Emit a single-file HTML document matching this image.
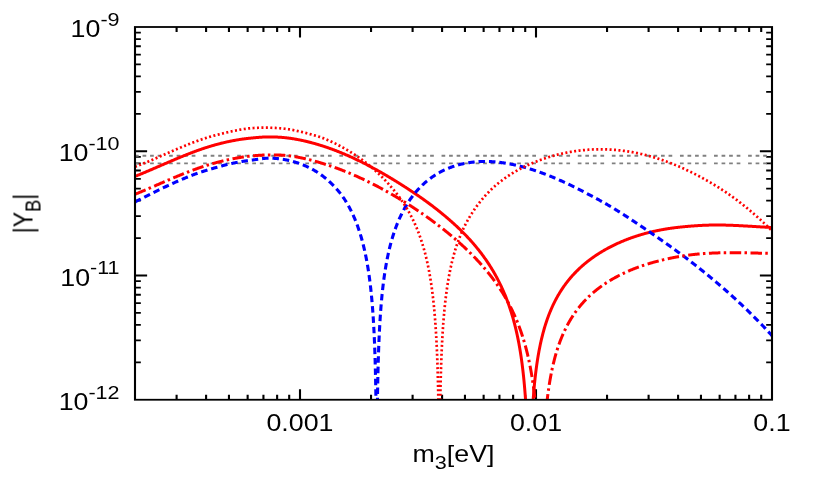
<!DOCTYPE html>
<html><head><meta charset="utf-8"><title>plot</title>
<style>html,body{margin:0;padding:0;background:#fff}svg{display:block}text{font-family:"Liberation Sans",sans-serif;font-size:23px;fill:#000}</style>
</head><body>
<svg width="817" height="491" viewBox="0 0 817 491">
<rect width="817" height="491" fill="#fff"/>
<defs><clipPath id="c"><rect x="135.0" y="27.0" width="637.0" height="372.75"/></clipPath></defs>
<g transform="scale(1.165 1)">
<path d="M151.59 399.75L151.59 394.75M151.59 27.00L151.59 32.00M176.90 399.75L176.90 394.75M176.90 27.00L176.90 32.00M196.53 399.75L196.53 394.75M196.53 27.00L196.53 32.00M212.57 399.75L212.57 394.75M212.57 27.00L212.57 32.00M226.13 399.75L226.13 394.75M226.13 27.00L226.13 32.00M237.88 399.75L237.88 394.75M237.88 27.00L237.88 32.00M248.24 399.75L248.24 394.75M248.24 27.00L248.24 32.00M257.51 399.75L257.51 389.35M257.51 27.00L257.51 37.40M318.49 399.75L318.49 394.75M318.49 27.00L318.49 32.00M354.16 399.75L354.16 394.75M354.16 27.00L354.16 32.00M379.47 399.75L379.47 394.75M379.47 27.00L379.47 32.00M399.10 399.75L399.10 394.75M399.10 27.00L399.10 32.00M415.14 399.75L415.14 394.75M415.14 27.00L415.14 32.00M428.71 399.75L428.71 394.75M428.71 27.00L428.71 32.00M440.45 399.75L440.45 394.75M440.45 27.00L440.45 32.00M450.82 399.75L450.82 394.75M450.82 27.00L450.82 32.00M460.09 399.75L460.09 389.35M460.09 27.00L460.09 37.40M521.07 399.75L521.07 394.75M521.07 27.00L521.07 32.00M556.74 399.75L556.74 394.75M556.74 27.00L556.74 32.00M582.05 399.75L582.05 394.75M582.05 27.00L582.05 32.00M601.68 399.75L601.68 394.75M601.68 27.00L601.68 32.00M617.72 399.75L617.72 394.75M617.72 27.00L617.72 32.00M631.28 399.75L631.28 394.75M631.28 27.00L631.28 32.00M643.03 399.75L643.03 394.75M643.03 27.00L643.03 32.00M653.39 399.75L653.39 394.75M653.39 27.00L653.39 32.00M115.88 151.25L126.28 151.25M662.66 151.25L652.26 151.25M115.88 113.85L120.88 113.85M662.66 113.85L657.66 113.85M115.88 91.97L120.88 91.97M662.66 91.97L657.66 91.97M115.88 76.44L120.88 76.44M662.66 76.44L657.66 76.44M115.88 64.40L120.88 64.40M662.66 64.40L657.66 64.40M115.88 54.56L120.88 54.56M662.66 54.56L657.66 54.56M115.88 46.25L120.88 46.25M662.66 46.25L657.66 46.25M115.88 39.04L120.88 39.04M662.66 39.04L657.66 39.04M115.88 32.69L120.88 32.69M662.66 32.69L657.66 32.69M115.88 275.50L126.28 275.50M662.66 275.50L652.26 275.50M115.88 238.10L120.88 238.10M662.66 238.10L657.66 238.10M115.88 216.22L120.88 216.22M662.66 216.22L657.66 216.22M115.88 200.69L120.88 200.69M662.66 200.69L657.66 200.69M115.88 188.65L120.88 188.65M662.66 188.65L657.66 188.65M115.88 178.81L120.88 178.81M662.66 178.81L657.66 178.81M115.88 170.50L120.88 170.50M662.66 170.50L657.66 170.50M115.88 163.29L120.88 163.29M662.66 163.29L657.66 163.29M115.88 156.94L120.88 156.94M662.66 156.94L657.66 156.94M115.88 362.35L120.88 362.35M662.66 362.35L657.66 362.35M115.88 340.47L120.88 340.47M662.66 340.47L657.66 340.47M115.88 324.94L120.88 324.94M662.66 324.94L657.66 324.94M115.88 312.90L120.88 312.90M662.66 312.90L657.66 312.90M115.88 303.06L120.88 303.06M662.66 303.06L657.66 303.06M115.88 294.75L120.88 294.75M662.66 294.75L657.66 294.75M115.88 287.54L120.88 287.54M662.66 287.54L657.66 287.54M115.88 281.19L120.88 281.19M662.66 281.19L657.66 281.19" stroke="#000" stroke-width="1.8" fill="none"/>
</g>
<g clip-path="url(#c)" fill="none" stroke-linejoin="round">
<path d="M135.0 155.75L772.0 155.75M135.0 163.29L772.0 163.29" stroke="#808080" stroke-width="1.8" stroke-dasharray="3.700 3.850 3.700 3.850 3.700 3.850 3.700 7.710"/>
<path d="M135.00 176.39L135.50 176.19L136.00 175.98L136.50 175.78L137.00 175.58L137.50 175.38L138.00 175.18L138.50 174.98L139.00 174.77L139.50 174.57L140.00 174.37L140.50 174.16L141.00 173.96L141.50 173.75L142.00 173.55L142.50 173.34L143.00 173.13L143.50 172.92L144.00 172.72L144.50 172.51L145.00 172.30L145.50 172.09L146.00 171.88L146.50 171.66L147.00 171.45L147.50 171.24L148.00 171.03L148.50 170.82L149.00 170.60L149.50 170.39L150.00 170.18L150.50 169.96L151.00 169.75L151.50 169.53L152.00 169.32L152.50 169.10L153.00 168.89L153.50 168.67L154.00 168.46L154.50 168.24L155.00 168.02L155.50 167.81L156.00 167.59L156.50 167.37L157.00 167.16L157.50 166.94L158.00 166.72L158.50 166.51L159.00 166.29L159.50 166.07L160.00 165.86L160.50 165.64L161.00 165.42L161.50 165.21L162.00 164.99L162.50 164.77L163.00 164.56L163.50 164.34L164.00 164.12L164.50 163.91L165.00 163.69L165.50 163.47L166.00 163.26L166.50 163.04L167.00 162.83L167.50 162.61L168.00 162.40L168.50 162.18L169.00 161.97L169.50 161.75L170.00 161.54L170.50 161.33L171.00 161.11L171.50 160.90L172.00 160.69L172.50 160.47L173.00 160.26L173.50 160.05L174.00 159.84L174.50 159.63L175.00 159.42L175.50 159.21L176.00 159.00L176.50 158.79L177.00 158.58L177.50 158.37L178.00 158.16L178.50 157.95L179.00 157.75L179.50 157.54L180.00 157.33L180.50 157.13L181.00 156.92L181.50 156.72L182.00 156.51L182.50 156.31L183.00 156.11L183.50 155.91L184.00 155.70L184.50 155.50L185.00 155.30L185.50 155.10L186.00 154.90L186.50 154.70L187.00 154.51L187.50 154.31L188.00 154.11L188.50 153.91L189.00 153.72L189.50 153.52L190.00 153.33L190.50 153.14L191.00 152.94L191.50 152.75L192.00 152.56L192.50 152.37L193.00 152.18L193.50 152.00L194.00 151.81L194.50 151.62L195.00 151.44L195.50 151.25L196.00 151.07L196.50 150.89L197.00 150.71L197.50 150.53L198.00 150.35L198.50 150.17L199.00 149.99L199.50 149.82L200.00 149.64L200.50 149.47L201.00 149.30L201.50 149.12L202.00 148.95L202.50 148.78L203.00 148.61L203.50 148.45L204.00 148.28L204.50 148.12L205.00 147.95L205.50 147.79L206.00 147.63L206.50 147.47L207.00 147.31L207.50 147.15L208.00 146.99L208.50 146.83L209.00 146.68L209.50 146.53L210.00 146.37L210.50 146.22L211.00 146.07L211.50 145.92L212.00 145.77L212.50 145.63L213.00 145.48L213.50 145.34L214.00 145.20L214.50 145.05L215.00 144.91L215.50 144.77L216.00 144.64L216.50 144.50L217.00 144.36L217.50 144.23L218.00 144.10L218.50 143.97L219.00 143.84L219.50 143.71L220.00 143.58L220.50 143.45L221.00 143.33L221.50 143.20L222.00 143.08L222.50 142.96L223.00 142.84L223.50 142.72L224.00 142.60L224.50 142.48L225.00 142.37L225.50 142.25L226.00 142.14L226.50 142.02L227.00 141.91L227.50 141.80L228.00 141.70L228.50 141.59L229.00 141.48L229.50 141.38L230.00 141.27L230.50 141.17L231.00 141.07L231.50 140.97L232.00 140.87L232.50 140.77L233.00 140.68L233.50 140.58L234.00 140.49L234.50 140.40L235.00 140.31L235.50 140.22L236.00 140.13L236.50 140.04L237.00 139.96L237.50 139.87L238.00 139.79L238.50 139.71L239.00 139.63L239.50 139.55L240.00 139.47L240.50 139.39L241.00 139.32L241.50 139.25L242.00 139.17L242.50 139.10L243.00 139.03L243.50 138.96L244.00 138.90L244.50 138.83L245.00 138.77L245.50 138.70L246.00 138.64L246.50 138.58L247.00 138.52L247.50 138.47L248.00 138.41L248.50 138.35L249.00 138.30L249.50 138.25L250.00 138.20L250.50 138.15L251.00 138.10L251.50 138.05L252.00 138.00L252.50 137.95L253.00 137.90L253.50 137.85L254.00 137.80L254.50 137.76L255.00 137.71L255.50 137.66L256.00 137.62L256.50 137.57L257.00 137.53L257.50 137.48L258.00 137.44L258.50 137.40L259.00 137.36L259.50 137.32L260.00 137.28L260.50 137.24L261.00 137.21L261.50 137.18L262.00 137.14L262.50 137.11L263.00 137.08L263.50 137.06L264.00 137.03L264.50 137.01L265.00 136.99L265.50 136.97L266.00 136.95L266.50 136.93L267.00 136.92L267.50 136.91L268.00 136.90L268.50 136.90L269.00 136.89L269.50 136.89L270.00 136.90L270.50 136.90L271.00 136.90L271.50 136.91L272.00 136.92L272.50 136.93L273.00 136.94L273.50 136.95L274.00 136.97L274.50 136.98L275.00 137.00L275.50 137.02L276.00 137.04L276.50 137.06L277.00 137.08L277.50 137.11L278.00 137.13L278.50 137.16L279.00 137.19L279.50 137.22L280.00 137.25L280.50 137.29L281.00 137.32L281.50 137.36L282.00 137.40L282.50 137.44L283.00 137.49L283.50 137.53L284.00 137.58L284.50 137.63L285.00 137.68L285.50 137.73L286.00 137.78L286.50 137.84L287.00 137.90L287.50 137.96L288.00 138.02L288.50 138.08L289.00 138.15L289.50 138.21L290.00 138.28L290.50 138.35L291.00 138.43L291.50 138.50L292.00 138.58L292.50 138.65L293.00 138.73L293.50 138.81L294.00 138.89L294.50 138.98L295.00 139.06L295.50 139.15L296.00 139.24L296.50 139.33L297.00 139.42L297.50 139.51L298.00 139.61L298.50 139.70L299.00 139.80L299.50 139.90L300.00 140.00L300.50 140.10L301.00 140.20L301.50 140.31L302.00 140.41L302.50 140.52L303.00 140.63L303.50 140.74L304.00 140.85L304.50 140.97L305.00 141.08L305.50 141.20L306.00 141.32L306.50 141.44L307.00 141.56L307.50 141.68L308.00 141.80L308.50 141.93L309.00 142.05L309.50 142.18L310.00 142.31L310.50 142.44L311.00 142.57L311.50 142.70L312.00 142.84L312.50 142.97L313.00 143.11L313.50 143.25L314.00 143.38L314.50 143.52L315.00 143.67L315.50 143.81L316.00 143.95L316.50 144.10L317.00 144.25L317.50 144.39L318.00 144.54L318.50 144.69L319.00 144.85L319.50 145.00L320.00 145.15L320.50 145.31L321.00 145.47L321.50 145.62L322.00 145.78L322.50 145.94L323.00 146.10L323.50 146.27L324.00 146.43L324.50 146.60L325.00 146.76L325.50 146.93L326.00 147.10L326.50 147.27L327.00 147.44L327.50 147.61L328.00 147.78L328.50 147.95L329.00 148.13L329.50 148.31L330.00 148.48L330.50 148.66L331.00 148.84L331.50 149.02L332.00 149.20L332.50 149.39L333.00 149.57L333.50 149.76L334.00 149.94L334.50 150.13L335.00 150.32L335.50 150.51L336.00 150.70L336.50 150.90L337.00 151.09L337.50 151.29L338.00 151.48L338.50 151.68L339.00 151.88L339.50 152.08L340.00 152.28L340.50 152.49L341.00 152.69L341.50 152.89L342.00 153.10L342.50 153.31L343.00 153.52L343.50 153.73L344.00 153.94L344.50 154.15L345.00 154.36L345.50 154.58L346.00 154.79L346.50 155.01L347.00 155.23L347.50 155.44L348.00 155.66L348.50 155.89L349.00 156.11L349.50 156.33L350.00 156.55L350.50 156.78L351.00 157.01L351.50 157.23L352.00 157.46L352.50 157.69L353.00 157.92L353.50 158.15L354.00 158.39L354.50 158.62L355.00 158.86L355.50 159.09L356.00 159.33L356.50 159.57L357.00 159.80L357.50 160.04L358.00 160.29L358.50 160.53L359.00 160.77L359.50 161.01L360.00 161.26L360.50 161.51L361.00 161.75L361.50 162.00L362.00 162.25L362.50 162.50L363.00 162.75L363.50 163.00L364.00 163.26L364.50 163.51L365.00 163.76L365.50 164.02L366.00 164.28L366.50 164.53L367.00 164.79L367.50 165.05L368.00 165.31L368.50 165.57L369.00 165.84L369.50 166.10L370.00 166.36L370.50 166.63L371.00 166.89L371.50 167.16L372.00 167.43L372.50 167.70L373.00 167.97L373.50 168.24L374.00 168.51L374.50 168.78L375.00 169.05L375.50 169.33L376.00 169.60L376.50 169.88L377.00 170.16L377.50 170.43L378.00 170.71L378.50 170.99L379.00 171.27L379.50 171.55L380.00 171.83L380.50 172.12L381.00 172.40L381.50 172.68L382.00 172.97L382.50 173.26L383.00 173.54L383.50 173.83L384.00 174.12L384.50 174.41L385.00 174.70L385.50 174.99L386.00 175.28L386.50 175.58L387.00 175.87L387.50 176.16L388.00 176.46L388.50 176.76L389.00 177.05L389.50 177.35L390.00 177.65L390.50 177.95L391.00 178.25L391.50 178.55L392.00 178.85L392.50 179.15L393.00 179.46L393.50 179.76L394.00 180.07L394.50 180.37L395.00 180.68L395.50 180.99L396.00 181.29L396.50 181.60L397.00 181.91L397.50 182.22L398.00 182.54L398.50 182.85L399.00 183.16L399.50 183.47L400.00 183.79L400.50 184.10L401.00 184.42L401.50 184.74L402.00 185.05L402.50 185.37L403.00 185.69L403.50 186.01L404.00 186.33L404.50 186.65L405.00 186.97L405.50 187.29L406.00 187.62L406.50 187.94L407.00 188.26L407.50 188.59L408.00 188.91L408.50 189.24L409.00 189.57L409.50 189.89L410.00 190.22L410.50 190.55L411.00 190.88L411.50 191.21L412.00 191.54L412.50 191.88L413.00 192.21L413.50 192.55L414.00 192.88L414.50 193.22L415.00 193.55L415.50 193.89L416.00 194.23L416.50 194.57L417.00 194.91L417.50 195.25L418.00 195.60L418.50 195.94L419.00 196.29L419.50 196.63L420.00 196.98L420.50 197.33L421.00 197.68L421.50 198.03L422.00 198.38L422.50 198.73L423.00 199.09L423.50 199.44L424.00 199.80L424.50 200.16L425.00 200.51L425.50 200.87L426.00 201.24L426.50 201.60L427.00 201.96L427.50 202.33L428.00 202.69L428.50 203.06L429.00 203.43L429.50 203.80L430.00 204.17L430.50 204.55L431.00 204.92L431.50 205.30L432.00 205.68L432.50 206.05L433.00 206.44L433.50 206.82L434.00 207.20L434.50 207.59L435.00 207.97L435.50 208.36L436.00 208.75L436.50 209.14L437.00 209.54L437.50 209.93L438.00 210.33L438.50 210.73L439.00 211.13L439.50 211.53L440.00 211.93L440.50 212.34L441.00 212.74L441.50 213.15L442.00 213.56L442.50 213.97L443.00 214.38L443.50 214.79L444.00 215.21L444.50 215.63L445.00 216.04L445.50 216.46L446.00 216.88L446.50 217.31L447.00 217.73L447.50 218.16L448.00 218.59L448.50 219.02L449.00 219.45L449.50 219.89L450.00 220.32L450.50 220.76L451.00 221.20L451.50 221.64L452.00 222.09L452.50 222.54L453.00 222.98L453.50 223.44L454.00 223.89L454.50 224.34L455.00 224.80L455.50 225.26L456.00 225.73L456.50 226.19L457.00 226.66L457.50 227.13L458.00 227.60L458.50 228.08L459.00 228.55L459.50 229.03L460.00 229.52L460.50 230.00L461.00 230.49L461.50 230.98L462.00 231.48L462.50 231.98L463.00 232.48L463.50 232.98L464.00 233.49L464.50 234.00L465.00 234.51L465.50 235.02L466.00 235.54L466.50 236.07L467.00 236.59L467.50 237.12L468.00 237.66L468.50 238.19L469.00 238.74L469.50 239.28L470.00 239.83L470.50 240.38L471.00 240.94L471.50 241.50L472.00 242.06L472.50 242.63L473.00 243.20L473.50 243.78L474.00 244.36L474.50 244.95L475.00 245.54L475.50 246.14L476.00 246.74L476.50 247.34L477.00 247.95L477.50 248.57L478.00 249.19L478.50 249.81L479.00 250.45L479.50 251.08L480.00 251.72L480.50 252.37L481.00 253.03L481.50 253.69L482.00 254.35L482.50 255.03L483.00 255.70L483.50 256.39L484.00 257.08L484.50 257.78L485.00 258.49L485.50 259.20L486.00 259.92L486.50 260.64L487.00 261.38L487.50 262.12L488.00 262.87L488.50 263.63L489.00 264.40L489.50 265.17L490.00 265.95L490.50 266.75L491.00 267.55L491.50 268.36L492.00 269.18L492.50 270.01L493.00 270.85L493.50 271.70L494.00 272.56L494.50 273.43L495.00 274.31L495.50 275.21L496.00 276.11L496.50 277.03L497.00 277.96L497.50 278.91L498.00 279.87L498.50 280.84L499.00 281.82L499.50 282.82L500.00 283.84L500.50 284.87L501.00 285.92L501.50 286.98L502.00 288.06L502.50 289.16L503.00 290.28L503.50 291.42L504.00 292.57L504.50 293.75L505.00 294.95L505.50 296.18L506.00 297.43L506.50 298.70L507.00 300.00L507.50 301.32L508.00 302.68L508.50 304.06L509.00 305.47L509.50 306.92L510.00 308.40L510.50 309.92L511.00 311.47L511.50 313.07L512.00 314.71L512.50 316.39L513.00 318.12L513.50 319.90L514.00 321.74L514.50 323.63L515.00 325.59L515.50 327.61L516.00 329.70L516.50 331.86L517.00 334.11L517.30 335.51L517.35 335.74L517.40 335.98L517.45 336.21L517.50 336.45L517.50 336.45L517.55 336.69L517.60 336.93L517.65 337.17L517.70 337.41L517.75 337.66L517.80 337.90L517.85 338.15L517.90 338.39L517.95 338.64L518.00 338.89L518.00 338.89L518.05 339.14L518.10 339.39L518.15 339.64L518.20 339.89L518.25 340.14L518.30 340.40L518.35 340.65L518.40 340.91L518.45 341.17L518.50 341.43L518.50 341.43L518.55 341.69L518.60 341.95L518.65 342.21L518.70 342.48L518.75 342.74L518.80 343.01L518.85 343.28L518.90 343.54L518.95 343.81L519.00 344.08L519.00 344.08L519.05 344.36L519.10 344.63L519.15 344.91L519.20 345.18L519.25 345.46L519.30 345.74L519.35 346.02L519.40 346.30L519.45 346.58L519.50 346.87L519.50 346.87L519.55 347.15L519.60 347.44L519.65 347.73L519.70 348.02L519.75 348.31L519.80 348.61L519.85 348.90L519.90 349.20L519.95 349.49L520.00 349.79L520.00 349.79L520.05 350.09L520.10 350.40L520.15 350.70L520.20 351.00L520.25 351.31L520.30 351.62L520.35 351.93L520.40 352.24L520.45 352.56L520.50 352.87L520.50 352.87L520.55 353.19L520.60 353.51L520.65 353.83L520.70 354.15L520.75 354.48L520.80 354.80L520.85 355.13L520.90 355.46L520.95 355.79L521.00 356.13L521.00 356.13L521.05 356.46L521.10 356.80L521.15 357.14L521.20 357.48L521.25 357.83L521.30 358.17L521.35 358.52L521.40 358.87L521.45 359.22L521.50 359.58L521.50 359.58L521.55 359.93L521.60 360.29L521.65 360.65L521.70 361.02L521.75 361.38L521.80 361.75L521.85 362.12L521.90 362.50L521.95 362.87L522.00 363.25L522.00 363.25L522.05 363.63L522.10 364.01L522.15 364.40L522.20 364.79L522.25 365.18L522.30 365.57L522.35 365.97L522.40 366.37L522.45 366.77L522.50 367.18L522.50 367.18L522.55 367.58L522.60 367.99L522.65 368.41L522.70 368.83L522.75 369.25L522.80 369.67L522.85 370.09L522.90 370.52L522.95 370.96L523.00 371.39L523.00 371.39L523.05 371.83L523.10 372.28L523.15 372.72L523.20 373.17L523.25 373.63L523.30 374.08L523.35 374.55L523.40 375.01L523.45 375.48L523.50 375.95L523.50 375.95L523.55 376.43L523.60 376.91L523.65 377.40L523.70 377.88L523.75 378.38L523.80 378.88L523.85 379.38L523.90 379.89L523.95 380.40L524.00 380.91L524.00 380.91L524.05 381.43L524.10 381.96L524.15 382.49L524.20 383.03L524.25 383.57L524.30 384.12L524.35 384.67L524.40 385.23L524.45 385.79L524.50 386.36L524.50 386.36L524.55 386.93L524.60 387.51L524.65 388.10L524.70 388.69L524.75 389.29L524.80 389.90L524.85 390.51L524.90 391.13L524.95 391.76L525.00 392.39L525.00 392.39L525.05 393.03L525.10 393.68L525.15 394.33L525.20 395.00L525.25 395.67L525.30 396.35L525.35 397.04L525.40 397.73L525.45 398.44L525.50 399.16L525.50 399.16L525.55 399.88L525.60 400.61L525.65 401.36L525.70 402.11L525.75 402.88L525.80 403.65L525.85 404.44L525.90 405.23L525.95 406.04L526.00 406.86L526.00 406.86L526.05 407.70L526.10 408.54L526.15 409.40L526.20 410.28L526.25 411.16L526.30 411.75L526.35 411.75L526.40 411.75L526.45 411.75L526.50 411.75L526.50 411.75L526.55 411.75L526.60 411.75L526.65 411.75L526.70 411.75L526.75 411.75L526.80 411.75L526.85 411.75L526.90 411.75L526.95 411.75L527.00 411.75L527.00 411.75L527.05 411.75L527.10 411.75L527.15 411.75L527.20 411.75L527.25 411.75L527.30 411.75L527.35 411.75L527.40 411.75L527.45 411.75L527.50 411.75L527.50 411.75L527.55 411.75L527.60 411.75L527.65 411.75L527.70 411.75L527.75 411.75L527.80 411.75L527.85 411.75L527.90 411.75L527.95 411.75L528.00 411.75L528.00 411.75L528.05 411.75L528.10 411.75L528.15 411.75L528.20 411.75L528.25 411.75L528.30 411.75L528.35 411.75L528.40 411.75L528.45 411.75L528.50 411.75L528.50 411.75L528.55 411.75L528.60 411.75L528.65 411.75L528.70 411.75L528.75 411.75L528.80 411.75L528.85 411.75L528.90 411.75L528.95 411.75L529.00 411.75L529.00 411.75L529.05 411.75L529.10 411.75L529.15 411.75L529.20 411.75L529.25 411.75L529.35 411.75L529.40 411.75L529.45 411.75L529.50 411.75L529.50 411.75L529.55 411.75L529.60 411.75L529.65 411.75L529.70 411.75L529.75 411.75L529.80 411.75L529.85 411.75L529.90 411.75L529.95 411.75L530.00 411.75L530.00 411.75L530.05 411.75L530.10 411.75L530.15 411.75L530.20 411.75L530.25 411.75L530.30 411.75L530.35 411.75L530.40 411.75L530.45 411.75L530.50 411.75L530.50 411.75L530.55 411.75L530.60 411.75L530.65 411.75L530.70 411.75L530.75 411.75L530.80 411.75L530.85 411.75L530.90 411.75L530.95 411.75L531.00 411.75L531.00 411.75L531.05 411.75L531.10 411.75L531.15 411.75L531.20 411.75L531.25 411.75L531.30 411.75L531.35 411.75L531.40 411.75L531.45 411.75L531.50 411.75L531.50 411.75L531.55 411.75L531.60 411.75L531.65 411.75L531.70 411.75L531.75 411.75L531.80 411.75L531.85 411.75L531.90 411.75L531.95 411.75L532.00 411.75L532.00 411.75L532.05 411.75L532.10 411.75L532.15 411.75L532.20 411.75L532.25 411.75L532.30 411.75L532.35 411.75L532.40 411.44L532.45 410.58L532.50 409.74L532.50 409.74L532.55 408.92L532.60 408.10L532.65 407.30L532.70 406.51L532.75 405.73L532.80 404.96L532.85 404.21L532.90 403.46L532.95 402.73L533.00 402.00L533.00 402.00L533.05 401.29L533.10 400.58L533.15 399.88L533.20 399.20L533.25 398.52L533.30 397.85L533.35 397.19L533.40 396.54L533.45 395.89L533.50 395.25L533.50 395.25L533.55 394.62L533.60 394.00L533.65 393.39L533.70 392.78L533.75 392.18L533.80 391.59L533.85 391.00L533.90 390.42L533.95 389.84L534.00 389.28L534.00 389.28L534.05 388.71L534.10 388.16L534.15 387.61L534.20 387.06L534.25 386.52L534.30 385.99L534.35 385.46L534.40 384.94L534.45 384.42L534.50 383.91L534.50 383.91L534.55 383.40L534.60 382.90L534.65 382.40L534.70 381.91L534.75 381.42L534.80 380.94L534.85 380.46L534.90 379.98L534.95 379.51L535.00 379.05L535.00 379.05L535.05 378.59L535.10 378.13L535.15 377.67L535.20 377.22L535.25 376.78L535.30 376.33L535.35 375.90L535.40 375.46L535.45 375.03L535.50 374.60L535.50 374.60L535.55 374.18L535.60 373.76L535.65 373.34L535.70 372.92L535.75 372.51L535.80 372.10L535.85 371.70L535.90 371.30L535.95 370.90L536.00 370.51L536.00 370.51L536.05 370.11L536.10 369.72L536.15 369.34L536.20 368.95L536.25 368.57L536.30 368.20L536.35 367.82L536.40 367.45L536.45 367.08L536.50 366.71L536.50 366.71L536.55 366.35L536.60 365.99L536.65 365.63L536.70 365.27L536.75 364.91L536.80 364.56L536.85 364.21L536.90 363.87L536.95 363.52L537.00 363.18L537.00 363.18L537.05 362.84L537.10 362.50L537.15 362.16L537.20 361.83L537.25 361.50L537.30 361.17L537.35 360.84L537.40 360.52L537.45 360.19L537.50 359.87L537.50 359.87L537.55 359.55L537.60 359.24L537.65 358.92L537.70 358.61L537.75 358.30L537.80 357.99L537.85 357.68L537.90 357.37L537.95 357.07L538.00 356.77L538.00 356.77L538.05 356.47L538.10 356.17L538.15 355.87L538.20 355.58L538.25 355.28L538.30 354.99L538.35 354.70L538.40 354.41L538.45 354.13L538.50 353.84L538.50 353.84L538.55 353.56L538.60 353.27L538.65 352.99L538.70 352.71L538.75 352.44L538.80 352.16L538.85 351.89L538.90 351.61L538.95 351.34L539.00 351.07L539.00 351.07L539.05 350.80L539.10 350.54L539.15 350.27L539.20 350.01L539.25 349.74L539.30 349.48L539.35 349.22L539.40 348.96L539.45 348.70L539.50 348.45L539.50 348.45L539.55 348.19L539.60 347.94L539.65 347.69L539.70 347.44L539.75 347.18L539.80 346.94L539.85 346.69L539.90 346.44L539.95 346.20L540.00 345.95L540.00 345.95L540.05 345.71L540.10 345.47L540.15 345.23L540.20 344.99L540.25 344.75L540.30 344.51L540.35 344.28L540.40 344.04L540.45 343.81L540.50 343.58L540.50 343.58L540.55 343.34L540.60 343.11L540.65 342.88L540.70 342.66L540.75 342.43L540.80 342.20L540.85 341.98L540.90 341.75L540.95 341.53L541.00 341.31L541.00 341.31L541.05 341.08L541.10 340.86L541.15 340.64L541.20 340.43L541.25 340.21L541.50 339.13L542.00 337.05L542.50 335.05L543.00 333.13L543.50 331.28L544.00 329.50L544.50 327.78L545.00 326.12L545.50 324.51L546.00 322.95L546.50 321.44L547.00 319.98L547.50 318.56L548.00 317.18L548.50 315.83L549.00 314.53L549.50 313.25L550.00 312.01L550.50 310.81L551.00 309.63L551.50 308.48L552.00 307.35L552.50 306.25L553.00 305.18L553.50 304.13L554.00 303.10L554.50 302.10L555.00 301.11L555.50 300.15L556.00 299.20L556.50 298.28L557.00 297.37L557.50 296.47L558.00 295.60L558.50 294.74L559.00 293.89L559.50 293.07L560.00 292.25L560.50 291.45L561.00 290.66L561.50 289.89L562.00 289.13L562.50 288.38L563.00 287.64L563.50 286.92L564.00 286.20L564.50 285.50L565.00 284.81L565.50 284.13L566.00 283.46L566.50 282.80L567.00 282.14L567.50 281.50L568.00 280.87L568.50 280.25L569.00 279.63L569.50 279.02L570.00 278.43L570.50 277.84L571.00 277.25L571.50 276.68L572.00 276.11L572.50 275.55L573.00 275.00L573.50 274.45L574.00 273.92L574.50 273.38L575.00 272.86L575.50 272.34L576.00 271.83L576.50 271.32L577.00 270.82L577.50 270.33L578.00 269.84L578.50 269.36L579.00 268.88L579.50 268.41L580.00 267.94L580.50 267.48L581.00 267.02L581.50 266.57L582.00 266.13L582.50 265.69L583.00 265.25L583.50 264.82L584.00 264.39L584.50 263.97L585.00 263.55L585.50 263.14L586.00 262.73L586.50 262.32L587.00 261.92L587.50 261.53L588.00 261.14L588.50 260.75L589.00 260.36L589.50 259.98L590.00 259.61L590.50 259.23L591.00 258.86L591.50 258.50L592.00 258.14L592.50 257.78L593.00 257.42L593.50 257.07L594.00 256.72L594.50 256.38L595.00 256.04L595.50 255.70L596.00 255.36L596.50 255.03L597.00 254.70L597.50 254.38L598.00 254.05L598.50 253.73L599.00 253.42L599.50 253.10L600.00 252.79L600.50 252.48L601.00 252.18L601.50 251.87L602.00 251.57L602.50 251.27L603.00 250.98L603.50 250.69L604.00 250.40L604.50 250.11L605.00 249.82L605.50 249.54L606.00 249.26L606.50 248.98L607.00 248.71L607.50 248.44L608.00 248.16L608.50 247.90L609.00 247.63L609.50 247.37L610.00 247.11L610.50 246.85L611.00 246.59L611.50 246.34L612.00 246.08L612.50 245.83L613.00 245.59L613.50 245.34L614.00 245.10L614.50 244.85L615.00 244.61L615.50 244.38L616.00 244.14L616.50 243.91L617.00 243.68L617.50 243.45L618.00 243.22L618.50 242.99L619.00 242.77L619.50 242.55L620.00 242.33L620.50 242.11L621.00 241.89L621.50 241.68L622.00 241.47L622.50 241.26L623.00 241.05L623.50 240.84L624.00 240.64L624.50 240.43L625.00 240.23L625.50 240.03L626.00 239.84L626.50 239.64L627.00 239.44L627.50 239.25L628.00 239.06L628.50 238.87L629.00 238.69L629.50 238.50L630.00 238.32L630.50 238.13L631.00 237.95L631.50 237.77L632.00 237.60L632.50 237.42L633.00 237.25L633.50 237.07L634.00 236.90L634.50 236.73L635.00 236.57L635.50 236.40L636.00 236.24L636.50 236.07L637.00 235.91L637.50 235.75L638.00 235.59L638.50 235.44L639.00 235.28L639.50 235.13L640.00 234.98L640.50 234.83L641.00 234.68L641.50 234.53L642.00 234.39L642.50 234.24L643.00 234.10L643.50 233.96L644.00 233.82L644.50 233.68L645.00 233.54L645.50 233.41L646.00 233.27L646.50 233.14L647.00 233.01L647.50 232.88L648.00 232.75L648.50 232.62L649.00 232.50L649.50 232.38L650.00 232.25L650.50 232.13L651.00 232.01L651.50 231.89L652.00 231.78L652.50 231.66L653.00 231.55L653.50 231.43L654.00 231.32L654.50 231.21L655.00 231.10L655.50 230.99L656.00 230.89L656.50 230.78L657.00 230.68L657.50 230.57L658.00 230.47L658.50 230.37L659.00 230.27L659.50 230.17L660.00 230.07L660.50 229.98L661.00 229.88L661.50 229.79L662.00 229.70L662.50 229.61L663.00 229.52L663.50 229.43L664.00 229.34L664.50 229.25L665.00 229.17L665.50 229.08L666.00 229.00L666.50 228.92L667.00 228.84L667.50 228.76L668.00 228.68L668.50 228.60L669.00 228.53L669.50 228.45L670.00 228.38L670.50 228.30L671.00 228.23L671.50 228.16L672.00 228.09L672.50 228.02L673.00 227.96L673.50 227.89L674.00 227.82L674.50 227.76L675.00 227.70L675.50 227.63L676.00 227.57L676.50 227.51L677.00 227.45L677.50 227.40L678.00 227.34L678.50 227.28L679.00 227.23L679.50 227.17L680.00 227.12L680.50 227.07L681.00 227.02L681.50 226.97L682.00 226.92L682.50 226.87L683.00 226.82L683.50 226.77L684.00 226.73L684.50 226.68L685.00 226.63L685.50 226.59L686.00 226.54L686.50 226.50L687.00 226.45L687.50 226.41L688.00 226.36L688.50 226.32L689.00 226.28L689.50 226.24L690.00 226.19L690.50 226.15L691.00 226.11L691.50 226.07L692.00 226.04L692.50 226.00L693.00 225.96L693.50 225.92L694.00 225.89L694.50 225.85L695.00 225.82L695.50 225.78L696.00 225.75L696.50 225.71L697.00 225.68L697.50 225.65L698.00 225.62L698.50 225.59L699.00 225.56L699.50 225.53L700.00 225.50L700.50 225.47L701.00 225.45L701.50 225.42L702.00 225.39L702.50 225.37L703.00 225.35L703.50 225.32L704.00 225.30L704.50 225.28L705.00 225.26L705.50 225.24L706.00 225.22L706.50 225.20L707.00 225.18L707.50 225.17L708.00 225.15L708.50 225.13L709.00 225.12L709.50 225.11L710.00 225.09L710.50 225.08L711.00 225.07L711.50 225.06L712.00 225.05L712.50 225.04L713.00 225.03L713.50 225.03L714.00 225.02L714.50 225.02L715.00 225.01L715.50 225.01L716.00 225.01L716.50 225.00L717.00 225.00L717.50 225.00L718.00 225.01L718.50 225.01L719.00 225.01L719.50 225.02L720.00 225.02L720.50 225.03L721.00 225.03L721.50 225.04L722.00 225.05L722.50 225.06L723.00 225.07L723.50 225.08L724.00 225.09L724.50 225.10L725.00 225.11L725.50 225.12L726.00 225.14L726.50 225.15L727.00 225.16L727.50 225.18L728.00 225.19L728.50 225.21L729.00 225.23L729.50 225.24L730.00 225.26L730.50 225.28L731.00 225.29L731.50 225.31L732.00 225.33L732.50 225.35L733.00 225.37L733.50 225.39L734.00 225.41L734.50 225.43L735.00 225.45L735.50 225.48L736.00 225.50L736.50 225.52L737.00 225.54L737.50 225.57L738.00 225.59L738.50 225.62L739.00 225.64L739.50 225.67L740.00 225.69L740.50 225.72L741.00 225.74L741.50 225.77L742.00 225.79L742.50 225.82L743.00 225.85L743.50 225.88L744.00 225.90L744.50 225.93L745.00 225.96L745.50 225.99L746.00 226.01L746.50 226.04L747.00 226.07L747.50 226.10L748.00 226.13L748.50 226.16L749.00 226.19L749.50 226.22L750.00 226.25L750.50 226.28L751.00 226.31L751.50 226.34L752.00 226.37L752.50 226.40L753.00 226.43L753.50 226.46L754.00 226.49L754.50 226.52L755.00 226.55L755.50 226.58L756.00 226.61L756.50 226.64L757.00 226.67L757.50 226.71L758.00 226.74L758.50 226.77L759.00 226.80L759.50 226.83L760.00 226.86L760.50 226.89L761.00 226.92L761.50 226.95L762.00 226.98L762.50 227.01L763.00 227.04L763.50 227.07L764.00 227.09L764.50 227.12L765.00 227.15L765.50 227.18L766.00 227.21L766.50 227.24L767.00 227.26L767.50 227.29L768.00 227.32L768.50 227.35L769.00 227.37L769.50 227.40L770.00 227.42L770.50 227.45L771.00 227.48L771.50 227.51L772.00 227.54" stroke="#f00" stroke-width="3"/>
<path d="M135.00 202.01L135.50 201.75L136.00 201.49L136.50 201.22L137.00 200.96L137.50 200.70L138.00 200.44L138.50 200.18L139.00 199.92L139.50 199.66L140.00 199.39L140.50 199.14L141.00 198.88L141.50 198.62L142.00 198.36L142.50 198.10L143.00 197.84L143.50 197.58L144.00 197.33L144.50 197.07L145.00 196.81L145.50 196.56L146.00 196.30L146.50 196.05L147.00 195.79L147.50 195.54L148.00 195.29L148.50 195.03L149.00 194.78L149.50 194.53L150.00 194.28L150.50 194.03L151.00 193.78L151.50 193.53L152.00 193.28L152.50 193.03L153.00 192.78L153.50 192.53L154.00 192.28L154.50 192.03L155.00 191.79L155.50 191.54L156.00 191.30L156.50 191.05L157.00 190.81L157.50 190.56L158.00 190.32L158.50 190.07L159.00 189.83L159.50 189.59L160.00 189.35L160.50 189.11L161.00 188.87L161.50 188.63L162.00 188.39L162.50 188.15L163.00 187.91L163.50 187.67L164.00 187.44L164.50 187.20L165.00 186.97L165.50 186.73L166.00 186.50L166.50 186.26L167.00 186.03L167.50 185.80L168.00 185.57L168.50 185.33L169.00 185.10L169.50 184.87L170.00 184.64L170.50 184.42L171.00 184.19L171.50 183.96L172.00 183.73L172.50 183.51L173.00 183.28L173.50 183.06L174.00 182.83L174.50 182.61L175.00 182.39L175.50 182.16L176.00 181.94L176.50 181.72L177.00 181.50L177.50 181.28L178.00 181.06L178.50 180.85L179.00 180.63L179.50 180.41L180.00 180.20L180.50 179.98L181.00 179.77L181.50 179.56L182.00 179.34L182.50 179.13L183.00 178.92L183.50 178.71L184.00 178.50L184.50 178.29L185.00 178.08L185.50 177.88L186.00 177.67L186.50 177.47L187.00 177.26L187.50 177.06L188.00 176.85L188.50 176.65L189.00 176.45L189.50 176.25L190.00 176.05L190.50 175.85L191.00 175.66L191.50 175.46L192.00 175.27L192.50 175.08L193.00 174.89L193.50 174.70L194.00 174.51L194.50 174.33L195.00 174.15L195.50 173.96L196.00 173.78L196.50 173.61L197.00 173.43L197.50 173.25L198.00 173.08L198.50 172.91L199.00 172.74L199.50 172.57L200.00 172.40L200.50 172.23L201.00 172.07L201.50 171.90L202.00 171.74L202.50 171.57L203.00 171.41L203.50 171.25L204.00 171.09L204.50 170.94L205.00 170.78L205.50 170.62L206.00 170.47L206.50 170.32L207.00 170.16L207.50 170.01L208.00 169.86L208.50 169.71L209.00 169.56L209.50 169.41L210.00 169.26L210.50 169.12L211.00 168.97L211.50 168.82L212.00 168.68L212.50 168.53L213.00 168.39L213.50 168.25L214.00 168.10L214.50 167.96L215.00 167.82L215.50 167.68L216.00 167.54L216.50 167.40L217.00 167.26L217.50 167.12L218.00 166.98L218.50 166.84L219.00 166.70L219.50 166.56L220.00 166.42L220.50 166.29L221.00 166.15L221.50 166.01L222.00 165.88L222.50 165.75L223.00 165.61L223.50 165.48L224.00 165.35L224.50 165.22L225.00 165.10L225.50 164.97L226.00 164.85L226.50 164.72L227.00 164.60L227.50 164.48L228.00 164.36L228.50 164.24L229.00 164.12L229.50 164.00L230.00 163.89L230.50 163.77L231.00 163.66L231.50 163.55L232.00 163.44L232.50 163.33L233.00 163.22L233.50 163.11L234.00 163.01L234.50 162.90L235.00 162.80L235.50 162.70L236.00 162.60L236.50 162.50L237.00 162.40L237.50 162.30L238.00 162.21L238.50 162.11L239.00 162.02L239.50 161.93L240.00 161.84L240.50 161.75L241.00 161.67L241.50 161.58L242.00 161.50L242.50 161.41L243.00 161.33L243.50 161.25L244.00 161.17L244.50 161.10L245.00 161.02L245.50 160.95L246.00 160.88L246.50 160.81L247.00 160.74L247.50 160.67L248.00 160.60L248.50 160.54L249.00 160.47L249.50 160.41L250.00 160.35L250.50 160.29L251.00 160.23L251.50 160.16L252.00 160.10L252.50 160.03L253.00 159.96L253.50 159.89L254.00 159.82L254.50 159.74L255.00 159.67L255.50 159.59L256.00 159.52L256.50 159.45L257.00 159.37L257.50 159.30L258.00 159.22L258.50 159.15L259.00 159.08L259.50 159.01L260.00 158.94L260.50 158.87L261.00 158.80L261.50 158.74L262.00 158.68L262.50 158.62L263.00 158.56L263.50 158.50L264.00 158.45L264.50 158.40L265.00 158.36L265.50 158.32L266.00 158.28L266.50 158.24L267.00 158.21L267.50 158.19L268.00 158.17L268.50 158.15L269.00 158.14L269.50 158.13L270.00 158.13L270.50 158.14L271.00 158.15L271.50 158.16L272.00 158.19L272.50 158.21L273.00 158.24L273.50 158.27L274.00 158.31L274.50 158.34L275.00 158.38L275.50 158.42L276.00 158.47L276.50 158.51L277.00 158.56L277.50 158.61L278.00 158.66L278.50 158.72L279.00 158.78L279.50 158.84L280.00 158.90L280.50 158.97L281.00 159.04L281.50 159.11L282.00 159.18L282.50 159.26L283.00 159.33L283.50 159.42L284.00 159.50L284.50 159.59L285.00 159.68L285.50 159.77L286.00 159.86L286.50 159.96L287.00 160.06L287.50 160.17L288.00 160.27L288.50 160.38L289.00 160.49L289.50 160.61L290.00 160.73L290.50 160.85L291.00 160.97L291.50 161.10L292.00 161.23L292.50 161.36L293.00 161.50L293.50 161.64L294.00 161.78L294.50 161.92L295.00 162.07L295.50 162.22L296.00 162.37L296.50 162.53L297.00 162.69L297.50 162.85L298.00 163.02L298.50 163.19L299.00 163.36L299.50 163.54L300.00 163.72L300.50 163.90L301.00 164.09L301.50 164.28L302.00 164.47L302.50 164.67L303.00 164.87L303.50 165.07L304.00 165.28L304.50 165.49L305.00 165.70L305.50 165.92L306.00 166.14L306.50 166.37L307.00 166.60L307.50 166.83L308.00 167.07L308.50 167.31L309.00 167.55L309.50 167.80L310.00 168.06L310.50 168.31L311.00 168.58L311.50 168.84L312.00 169.11L312.50 169.39L313.00 169.67L313.50 169.95L314.00 170.24L314.50 170.53L315.00 170.83L315.50 171.13L316.00 171.43L316.50 171.74L317.00 172.06L317.50 172.38L318.00 172.71L318.50 173.04L319.00 173.37L319.50 173.71L320.00 174.06L320.50 174.41L321.00 174.77L321.50 175.13L322.00 175.50L322.50 175.87L323.00 176.25L323.50 176.64L324.00 177.03L324.50 177.43L325.00 177.83L325.50 178.24L326.00 178.66L326.50 179.08L327.00 179.51L327.50 179.94L328.00 180.38L328.50 180.83L329.00 181.29L329.50 181.75L330.00 182.22L330.50 182.70L331.00 183.18L331.50 183.66L332.00 184.15L332.50 184.65L333.00 185.15L333.50 185.65L334.00 186.17L334.50 186.69L335.00 187.22L335.50 187.75L336.00 188.30L336.50 188.85L337.00 189.41L337.50 189.98L338.00 190.57L338.50 191.16L339.00 191.76L339.50 192.37L340.00 193.00L340.50 193.64L341.00 194.29L341.50 194.95L342.00 195.63L342.50 196.32L343.00 197.03L343.50 197.76L344.00 198.49L344.50 199.25L345.00 200.02L345.50 200.81L346.00 201.62L346.50 202.44L347.00 203.28L347.50 204.13L348.00 205.00L348.50 205.89L349.00 206.80L349.50 207.73L350.00 208.67L350.50 209.64L351.00 210.63L351.50 211.64L352.00 212.67L352.50 213.73L353.00 214.81L353.50 215.92L354.00 217.05L354.50 218.21L355.00 219.40L355.50 220.62L356.00 221.88L356.50 223.16L357.00 224.48L357.50 225.84L358.00 227.23L358.50 228.66L359.00 230.14L359.50 231.66L360.00 233.23L360.50 234.84L361.00 236.51L361.50 238.24L362.00 240.03L362.50 241.88L363.00 243.79L363.50 245.79L364.00 247.86L364.50 250.01L364.70 250.90L364.75 251.12L364.80 251.35L364.85 251.58L364.90 251.80L364.95 252.03L365.00 252.26L365.00 252.26L365.05 252.49L365.10 252.72L365.15 252.95L365.20 253.19L365.25 253.42L365.30 253.66L365.35 253.89L365.40 254.13L365.45 254.37L365.50 254.61L365.50 254.61L365.55 254.85L365.60 255.09L365.65 255.33L365.70 255.58L365.75 255.82L365.80 256.07L365.85 256.32L365.90 256.56L365.95 256.81L366.00 257.06L366.00 257.06L366.05 257.32L366.10 257.57L366.15 257.82L366.20 258.08L366.25 258.34L366.30 258.59L366.35 258.85L366.40 259.11L366.45 259.38L366.50 259.64L366.50 259.64L366.55 259.90L366.60 260.17L366.65 260.44L366.70 260.71L366.75 260.98L366.80 261.25L366.85 261.52L366.90 261.79L366.95 262.07L367.00 262.35L367.00 262.35L367.05 262.63L367.10 262.91L367.15 263.19L367.20 263.47L367.25 263.75L367.30 264.04L367.35 264.33L367.40 264.62L367.45 264.91L367.50 265.20L367.50 265.20L367.55 265.49L367.60 265.79L367.65 266.09L367.70 266.38L367.75 266.68L367.80 266.99L367.85 267.29L367.90 267.60L367.95 267.90L368.00 268.21L368.00 268.21L368.05 268.52L368.10 268.84L368.15 269.15L368.20 269.47L368.25 269.78L368.30 270.11L368.35 270.43L368.40 270.75L368.45 271.08L368.50 271.41L368.50 271.41L368.55 271.74L368.60 272.07L368.65 272.40L368.70 272.74L368.75 273.08L368.80 273.42L368.85 273.76L368.90 274.10L368.95 274.45L369.00 274.80L369.00 274.80L369.05 275.15L369.10 275.51L369.15 275.86L369.20 276.22L369.25 276.58L369.30 276.95L369.35 277.31L369.40 277.68L369.45 278.05L369.50 278.42L369.50 278.42L369.55 278.80L369.60 279.18L369.65 279.56L369.70 279.95L369.75 280.33L369.80 280.72L369.85 281.12L369.90 281.51L369.95 281.91L370.00 282.31L370.00 282.31L370.05 282.72L370.10 283.12L370.15 283.53L370.20 283.95L370.25 284.37L370.30 284.79L370.35 285.21L370.40 285.64L370.45 286.07L370.50 286.50L370.50 286.50L370.55 286.94L370.60 287.38L370.65 287.82L370.70 288.27L370.75 288.72L370.80 289.18L370.85 289.64L370.90 290.10L370.95 290.57L371.00 291.04L371.00 291.04L371.05 291.52L371.10 292.00L371.15 292.48L371.20 292.97L371.25 293.47L371.30 293.96L371.35 294.47L371.40 294.97L371.45 295.49L371.50 296.00L371.50 296.00L371.55 296.53L371.60 297.05L371.65 297.59L371.70 298.12L371.75 298.67L371.80 299.22L371.85 299.77L371.90 300.33L371.95 300.90L372.00 301.47L372.00 301.47L372.05 302.05L372.10 302.63L372.15 303.22L372.20 303.82L372.25 304.42L372.30 305.03L372.35 305.65L372.40 306.27L372.45 306.91L372.50 307.55L372.50 307.55L372.55 308.19L372.60 308.85L372.65 309.51L372.70 310.18L372.75 310.86L372.80 311.55L372.85 312.25L372.90 312.96L372.95 313.67L373.00 314.40L373.00 314.40L373.05 315.13L373.10 315.88L373.15 316.63L373.20 317.40L373.25 318.18L373.30 318.97L373.35 319.77L373.40 320.58L373.45 321.40L373.50 322.24L373.50 322.24L373.55 323.09L373.60 323.96L373.65 324.84L373.70 325.73L373.75 326.64L373.80 327.56L373.85 328.50L373.90 329.46L373.95 330.43L374.00 331.42L374.00 331.42L374.05 332.43L374.10 333.46L374.15 334.51L374.20 335.58L374.25 336.67L374.30 337.79L374.35 338.93L374.40 340.09L374.45 341.27L374.50 342.49L374.50 342.49L374.55 343.73L374.60 345.00L374.65 346.30L374.70 347.64L374.75 349.01L374.80 350.41L374.85 351.85L374.90 353.33L374.95 354.85L375.00 356.42L375.00 356.42L375.05 358.03L375.10 359.69L375.15 361.41L375.20 363.18L375.25 365.01L375.30 366.90L375.35 368.87L375.40 370.91L375.45 373.02L375.50 375.23L375.50 375.23L375.55 377.53L375.60 379.93L375.65 382.44L375.70 385.07L375.75 387.84L375.80 390.76L375.85 393.85L375.90 397.12L375.95 400.61L376.00 404.33L376.00 404.33L376.05 408.33L376.10 411.75L376.15 411.75L376.20 411.75L376.25 411.75L376.30 411.75L376.35 411.75L376.40 411.75L376.45 411.75L376.50 411.75L376.50 411.75L376.55 411.75L376.60 411.75L376.65 411.75L376.75 411.75L376.80 411.75L376.85 411.75L376.90 411.75L376.95 411.75L377.00 411.75L377.00 411.75L377.05 411.75L377.10 411.75L377.15 411.75L377.20 411.75L377.25 411.75L377.30 411.75L377.35 408.39L377.40 404.39L377.45 400.67L377.50 397.19L377.50 397.19L377.55 393.92L377.60 390.84L377.65 387.92L377.70 385.16L377.75 382.53L377.80 380.02L377.85 377.62L377.90 375.33L377.95 373.13L378.00 371.01L378.00 371.01L378.05 368.98L378.10 367.02L378.15 365.13L378.20 363.30L378.25 361.53L378.30 359.82L378.35 358.16L378.40 356.56L378.45 354.99L378.50 353.48L378.50 353.48L378.55 352.00L378.60 350.56L378.65 349.16L378.70 347.80L378.75 346.47L378.80 345.17L378.85 343.91L378.90 342.67L378.95 341.46L379.00 340.27L379.00 340.27L379.05 339.12L379.10 337.98L379.15 336.87L379.20 335.79L379.25 334.72L379.30 333.67L379.35 332.65L379.40 331.64L379.45 330.66L379.50 329.69L379.50 329.69L379.55 328.73L379.60 327.80L379.65 326.88L379.70 325.97L379.75 325.08L379.80 324.21L379.85 323.35L379.90 322.50L379.95 321.67L380.00 320.85L380.00 320.85L380.05 320.04L380.10 319.24L380.15 318.46L380.20 317.68L380.25 316.92L380.30 316.17L380.35 315.43L380.40 314.70L380.45 313.98L380.50 313.26L380.50 313.26L380.55 312.56L380.60 311.87L380.65 311.18L380.70 310.51L380.75 309.84L380.80 309.18L380.85 308.53L380.90 307.89L380.95 307.25L381.00 306.62L381.00 306.62L381.05 306.00L381.10 305.39L381.15 304.78L381.20 304.18L381.25 303.59L381.30 303.00L381.35 302.42L381.40 301.85L381.45 301.28L381.50 300.72L381.50 300.72L381.55 300.16L381.60 299.61L381.65 299.07L381.70 298.53L381.75 297.99L381.80 297.47L381.85 296.94L381.90 296.43L381.95 295.91L382.00 295.40L382.00 295.40L382.05 294.90L382.10 294.40L382.15 293.91L382.20 293.42L382.25 292.93L382.30 292.45L382.35 291.98L382.40 291.50L382.45 291.04L382.50 290.57L382.50 290.57L382.55 290.11L382.60 289.66L382.65 289.21L382.70 288.76L382.75 288.31L382.80 287.87L382.85 287.43L382.90 287.00L382.95 286.57L383.00 286.15L383.00 286.15L383.05 285.72L383.10 285.30L383.15 284.89L383.20 284.47L383.25 284.06L383.30 283.66L383.35 283.25L383.40 282.85L383.45 282.45L383.50 282.06L383.50 282.06L383.55 281.67L383.60 281.28L383.65 280.89L383.70 280.51L383.75 280.13L383.80 279.75L383.85 279.38L383.90 279.00L383.95 278.63L384.00 278.27L384.00 278.27L384.05 277.90L384.10 277.54L384.15 277.18L384.20 276.82L384.25 276.47L384.30 276.12L384.35 275.77L384.40 275.42L384.45 275.07L384.50 274.73L384.50 274.73L384.55 274.39L384.60 274.05L384.65 273.71L384.70 273.38L384.75 273.05L384.80 272.72L384.85 272.39L384.90 272.06L384.95 271.74L385.00 271.42L385.00 271.42L385.05 271.10L385.10 270.78L385.15 270.46L385.20 270.15L385.25 269.84L385.30 269.53L385.35 269.22L385.40 268.91L385.45 268.60L385.50 268.30L385.50 268.30L385.55 268.00L385.60 267.70L385.65 267.40L385.70 267.10L385.75 266.81L385.80 266.52L385.85 266.22L385.90 265.93L385.95 265.65L386.00 265.36L386.00 265.36L386.05 265.07L386.10 264.79L386.15 264.51L386.20 264.23L386.25 263.95L386.30 263.67L386.35 263.40L386.40 263.12L386.45 262.85L386.50 262.58L386.50 262.58L386.55 262.31L386.60 262.04L386.65 261.77L386.70 261.50L386.75 261.24L386.80 260.98L386.85 260.71L386.90 260.45L386.95 260.19L387.00 259.93L387.00 259.93L387.05 259.68L387.10 259.42L387.15 259.17L387.20 258.91L387.25 258.66L387.30 258.41L387.35 258.16L387.40 257.91L387.45 257.67L387.50 257.42L387.50 257.42L387.55 257.18L387.60 256.93L387.65 256.69L387.70 256.45L387.75 256.21L387.80 255.97L387.85 255.73L387.90 255.50L387.95 255.26L388.00 255.02L388.00 255.02L388.05 254.79L388.10 254.56L388.15 254.33L388.20 254.10L388.25 253.87L388.30 253.64L388.35 253.41L388.40 253.18L388.45 252.96L388.50 252.73L388.50 252.73L388.55 252.51L388.60 252.29L388.65 252.07L389.00 250.54L389.50 248.44L390.00 246.42L390.50 244.48L391.00 242.61L391.50 240.81L392.00 239.07L392.50 237.39L393.00 235.77L393.50 234.19L394.00 232.67L394.50 231.19L395.00 229.76L395.50 228.36L396.00 227.01L396.50 225.69L397.00 224.41L397.50 223.16L398.00 221.94L398.50 220.76L399.00 219.60L399.50 218.47L400.00 217.37L400.50 216.30L401.00 215.24L401.50 214.22L402.00 213.21L402.50 212.23L403.00 211.27L403.50 210.33L404.00 209.41L404.50 208.50L405.00 207.62L405.50 206.75L406.00 205.90L406.50 205.07L407.00 204.25L407.50 203.45L408.00 202.67L408.50 201.89L409.00 201.14L409.50 200.39L410.00 199.66L410.50 198.94L411.00 198.24L411.50 197.55L412.00 196.87L412.50 196.20L413.00 195.54L413.50 194.90L414.00 194.27L414.50 193.64L415.00 193.03L415.50 192.43L416.00 191.84L416.50 191.26L417.00 190.68L417.50 190.12L418.00 189.57L418.50 189.02L419.00 188.49L419.50 187.96L420.00 187.45L420.50 186.94L421.00 186.43L421.50 185.94L422.00 185.46L422.50 184.98L423.00 184.51L423.50 184.04L424.00 183.59L424.50 183.14L425.00 182.70L425.50 182.26L426.00 181.84L426.50 181.42L427.00 181.00L427.50 180.59L428.00 180.19L428.50 179.80L429.00 179.41L429.50 179.03L430.00 178.65L430.50 178.28L431.00 177.91L431.50 177.55L432.00 177.20L432.50 176.85L433.00 176.51L433.50 176.17L434.00 175.84L434.50 175.51L435.00 175.19L435.50 174.87L436.00 174.56L436.50 174.25L437.00 173.95L437.50 173.66L438.00 173.36L438.50 173.08L439.00 172.79L439.50 172.51L440.00 172.24L440.50 171.97L441.00 171.71L441.50 171.45L442.00 171.19L442.50 170.94L443.00 170.69L443.50 170.45L444.00 170.21L444.50 169.97L445.00 169.74L445.50 169.51L446.00 169.29L446.50 169.07L447.00 168.85L447.50 168.64L448.00 168.43L448.50 168.23L449.00 168.03L449.50 167.83L450.00 167.64L450.50 167.45L451.00 167.26L451.50 167.08L452.00 166.90L452.50 166.72L453.00 166.55L453.50 166.38L454.00 166.22L454.50 166.05L455.00 165.90L455.50 165.74L456.00 165.59L456.50 165.44L457.00 165.29L457.50 165.15L458.00 165.01L458.50 164.87L459.00 164.74L459.50 164.61L460.00 164.48L460.50 164.36L461.00 164.23L461.50 164.11L462.00 164.00L462.50 163.89L463.00 163.78L463.50 163.67L464.00 163.56L464.50 163.46L465.00 163.36L465.50 163.27L466.00 163.17L466.50 163.08L467.00 163.00L467.50 162.91L468.00 162.83L468.50 162.75L469.00 162.67L469.50 162.60L470.00 162.52L470.50 162.45L471.00 162.39L471.50 162.32L472.00 162.26L472.50 162.20L473.00 162.14L473.50 162.09L474.00 162.04L474.50 161.99L475.00 161.94L475.50 161.89L476.00 161.85L476.50 161.81L477.00 161.77L477.50 161.74L478.00 161.70L478.50 161.67L479.00 161.64L479.50 161.62L480.00 161.59L480.50 161.57L481.00 161.55L481.50 161.53L482.00 161.52L482.50 161.50L483.00 161.49L483.50 161.49L484.00 161.48L484.50 161.48L485.00 161.48L485.50 161.48L486.00 161.48L486.50 161.49L487.00 161.49L487.50 161.50L488.00 161.51L488.50 161.53L489.00 161.54L489.50 161.56L490.00 161.58L490.50 161.61L491.00 161.63L491.50 161.66L492.00 161.69L492.50 161.72L493.00 161.75L493.50 161.78L494.00 161.82L494.50 161.86L495.00 161.90L495.50 161.94L496.00 161.99L496.50 162.03L497.00 162.08L497.50 162.13L498.00 162.18L498.50 162.24L499.00 162.29L499.50 162.35L500.00 162.41L500.50 162.47L501.00 162.54L501.50 162.60L502.00 162.67L502.50 162.74L503.00 162.81L503.50 162.88L504.00 162.95L504.50 163.03L505.00 163.11L505.50 163.18L506.00 163.27L506.50 163.35L507.00 163.43L507.50 163.52L508.00 163.61L508.50 163.69L509.00 163.78L509.50 163.88L510.00 163.97L510.50 164.07L511.00 164.16L511.50 164.26L512.00 164.36L512.50 164.46L513.00 164.57L513.50 164.67L514.00 164.78L514.50 164.89L515.00 164.99L515.50 165.11L516.00 165.22L516.50 165.33L517.00 165.45L517.50 165.56L518.00 165.68L518.50 165.80L519.00 165.92L519.50 166.04L520.00 166.17L520.50 166.29L521.00 166.42L521.50 166.55L522.00 166.68L522.50 166.81L523.00 166.94L523.50 167.07L524.00 167.21L524.50 167.35L525.00 167.49L525.50 167.63L526.00 167.77L526.50 167.91L527.00 168.05L527.50 168.20L528.00 168.35L528.50 168.49L529.00 168.64L529.50 168.79L530.00 168.95L530.50 169.10L531.00 169.26L531.50 169.41L532.00 169.57L532.50 169.73L533.00 169.89L533.50 170.05L534.00 170.21L534.50 170.38L535.00 170.54L535.50 170.71L536.00 170.88L536.50 171.05L537.00 171.22L537.50 171.39L538.00 171.56L538.50 171.74L539.00 171.91L539.50 172.09L540.00 172.27L540.50 172.45L541.00 172.63L541.50 172.81L542.00 172.99L542.50 173.18L543.00 173.36L543.50 173.55L544.00 173.73L544.50 173.92L545.00 174.11L545.50 174.30L546.00 174.49L546.50 174.69L547.00 174.88L547.50 175.08L548.00 175.27L548.50 175.47L549.00 175.67L549.50 175.87L550.00 176.07L550.50 176.27L551.00 176.47L551.50 176.68L552.00 176.88L552.50 177.09L553.00 177.29L553.50 177.50L554.00 177.71L554.50 177.92L555.00 178.13L555.50 178.34L556.00 178.56L556.50 178.77L557.00 178.99L557.50 179.20L558.00 179.42L558.50 179.64L559.00 179.86L559.50 180.08L560.00 180.30L560.50 180.52L561.00 180.75L561.50 180.97L562.00 181.20L562.50 181.43L563.00 181.65L563.50 181.88L564.00 182.11L564.50 182.35L565.00 182.58L565.50 182.81L566.00 183.04L566.50 183.28L567.00 183.51L567.50 183.75L568.00 183.99L568.50 184.23L569.00 184.47L569.50 184.71L570.00 184.95L570.50 185.19L571.00 185.43L571.50 185.68L572.00 185.92L572.50 186.17L573.00 186.41L573.50 186.66L574.00 186.91L574.50 187.15L575.00 187.40L575.50 187.65L576.00 187.90L576.50 188.15L577.00 188.40L577.50 188.66L578.00 188.91L578.50 189.16L579.00 189.42L579.50 189.67L580.00 189.93L580.50 190.18L581.00 190.44L581.50 190.70L582.00 190.95L582.50 191.21L583.00 191.47L583.50 191.73L584.00 191.99L584.50 192.25L585.00 192.51L585.50 192.77L586.00 193.03L586.50 193.29L587.00 193.56L587.50 193.82L588.00 194.08L588.50 194.34L589.00 194.61L589.50 194.87L590.00 195.13L590.50 195.40L591.00 195.66L591.50 195.93L592.00 196.19L592.50 196.46L593.00 196.72L593.50 196.99L594.00 197.26L594.50 197.53L595.00 197.79L595.50 198.06L596.00 198.33L596.50 198.60L597.00 198.87L597.50 199.14L598.00 199.42L598.50 199.69L599.00 199.96L599.50 200.24L600.00 200.51L600.50 200.79L601.00 201.07L601.50 201.34L602.00 201.62L602.50 201.90L603.00 202.18L603.50 202.46L604.00 202.74L604.50 203.03L605.00 203.31L605.50 203.59L606.00 203.88L606.50 204.17L607.00 204.46L607.50 204.74L608.00 205.03L608.50 205.33L609.00 205.62L609.50 205.91L610.00 206.21L610.50 206.50L611.00 206.80L611.50 207.10L612.00 207.40L612.50 207.70L613.00 208.00L613.50 208.30L614.00 208.60L614.50 208.91L615.00 209.21L615.50 209.52L616.00 209.83L616.50 210.14L617.00 210.45L617.50 210.76L618.00 211.07L618.50 211.38L619.00 211.69L619.50 212.01L620.00 212.32L620.50 212.64L621.00 212.95L621.50 213.27L622.00 213.59L622.50 213.91L623.00 214.23L623.50 214.55L624.00 214.87L624.50 215.19L625.00 215.51L625.50 215.84L626.00 216.16L626.50 216.49L627.00 216.81L627.50 217.14L628.00 217.46L628.50 217.79L629.00 218.12L629.50 218.45L630.00 218.77L630.50 219.10L631.00 219.43L631.50 219.76L632.00 220.09L632.50 220.43L633.00 220.76L633.50 221.09L634.00 221.42L634.50 221.76L635.00 222.09L635.50 222.42L636.00 222.76L636.50 223.09L637.00 223.43L637.50 223.76L638.00 224.10L638.50 224.43L639.00 224.77L639.50 225.11L640.00 225.44L640.50 225.78L641.00 226.12L641.50 226.46L642.00 226.80L642.50 227.13L643.00 227.47L643.50 227.81L644.00 228.15L644.50 228.49L645.00 228.83L645.50 229.17L646.00 229.51L646.50 229.85L647.00 230.19L647.50 230.53L648.00 230.87L648.50 231.21L649.00 231.55L649.50 231.89L650.00 232.23L650.50 232.58L651.00 232.92L651.50 233.26L652.00 233.61L652.50 233.95L653.00 234.29L653.50 234.64L654.00 234.98L654.50 235.33L655.00 235.67L655.50 236.02L656.00 236.36L656.50 236.71L657.00 237.06L657.50 237.40L658.00 237.75L658.50 238.10L659.00 238.45L659.50 238.80L660.00 239.15L660.50 239.49L661.00 239.84L661.50 240.19L662.00 240.55L662.50 240.90L663.00 241.25L663.50 241.60L664.00 241.95L664.50 242.30L665.00 242.66L665.50 243.01L666.00 243.37L666.50 243.72L667.00 244.08L667.50 244.43L668.00 244.79L668.50 245.14L669.00 245.50L669.50 245.86L670.00 246.22L670.50 246.57L671.00 246.93L671.50 247.29L672.00 247.65L672.50 248.01L673.00 248.37L673.50 248.74L674.00 249.10L674.50 249.46L675.00 249.82L675.50 250.19L676.00 250.55L676.50 250.92L677.00 251.28L677.50 251.65L678.00 252.01L678.50 252.38L679.00 252.75L679.50 253.12L680.00 253.49L680.50 253.86L681.00 254.23L681.50 254.60L682.00 254.97L682.50 255.34L683.00 255.72L683.50 256.09L684.00 256.46L684.50 256.84L685.00 257.21L685.50 257.59L686.00 257.97L686.50 258.34L687.00 258.72L687.50 259.10L688.00 259.48L688.50 259.86L689.00 260.24L689.50 260.62L690.00 261.01L690.50 261.39L691.00 261.78L691.50 262.16L692.00 262.55L692.50 262.93L693.00 263.32L693.50 263.71L694.00 264.10L694.50 264.49L695.00 264.88L695.50 265.27L696.00 265.66L696.50 266.05L697.00 266.45L697.50 266.84L698.00 267.24L698.50 267.63L699.00 268.03L699.50 268.43L700.00 268.83L700.50 269.23L701.00 269.63L701.50 270.03L702.00 270.43L702.50 270.83L703.00 271.24L703.50 271.64L704.00 272.05L704.50 272.45L705.00 272.86L705.50 273.26L706.00 273.67L706.50 274.08L707.00 274.49L707.50 274.90L708.00 275.31L708.50 275.72L709.00 276.13L709.50 276.54L710.00 276.96L710.50 277.37L711.00 277.78L711.50 278.20L712.00 278.62L712.50 279.03L713.00 279.45L713.50 279.87L714.00 280.29L714.50 280.71L715.00 281.13L715.50 281.55L716.00 281.97L716.50 282.40L717.00 282.82L717.50 283.24L718.00 283.67L718.50 284.10L719.00 284.52L719.50 284.95L720.00 285.38L720.50 285.81L721.00 286.24L721.50 286.67L722.00 287.10L722.50 287.54L723.00 287.97L723.50 288.41L724.00 288.84L724.50 289.28L725.00 289.71L725.50 290.15L726.00 290.59L726.50 291.03L727.00 291.47L727.50 291.91L728.00 292.36L728.50 292.80L729.00 293.25L729.50 293.69L730.00 294.14L730.50 294.58L731.00 295.03L731.50 295.48L732.00 295.93L732.50 296.38L733.00 296.84L733.50 297.29L734.00 297.74L734.50 298.20L735.00 298.65L735.50 299.11L736.00 299.57L736.50 300.03L737.00 300.49L737.50 300.95L738.00 301.41L738.50 301.88L739.00 302.34L739.50 302.80L740.00 303.27L740.50 303.74L741.00 304.21L741.50 304.68L742.00 305.15L742.50 305.62L743.00 306.09L743.50 306.57L744.00 307.04L744.50 307.52L745.00 308.00L745.50 308.47L746.00 308.95L746.50 309.43L747.00 309.92L747.50 310.40L748.00 310.88L748.50 311.37L749.00 311.86L749.50 312.34L750.00 312.83L750.50 313.32L751.00 313.81L751.50 314.31L752.00 314.80L752.50 315.30L753.00 315.79L753.50 316.29L754.00 316.79L754.50 317.29L755.00 317.79L755.50 318.29L756.00 318.80L756.50 319.30L757.00 319.81L757.50 320.32L758.00 320.83L758.50 321.34L759.00 321.85L759.50 322.37L760.00 322.88L760.50 323.40L761.00 323.92L761.50 324.43L762.00 324.95L762.50 325.48L763.00 326.00L763.50 326.53L764.00 327.05L764.50 327.58L765.00 328.11L765.50 328.64L766.00 329.17L766.50 329.71L767.00 330.24L767.50 330.78L768.00 331.32L768.50 331.86L769.00 332.40L769.50 332.94L770.00 333.48L770.50 334.03L771.00 334.58L771.50 335.13L772.00 335.68" stroke="#00f" stroke-width="3.1" stroke-dasharray="6.5 3.9"/>
<path d="M135.00 166.76L135.50 166.56L136.00 166.36L136.50 166.18L137.00 165.99L137.50 165.81L138.00 165.62L138.50 165.43L139.00 165.24L139.50 165.05L140.00 164.86L140.50 164.67L141.00 164.47L141.50 164.28L142.00 164.08L142.50 163.88L143.00 163.68L143.50 163.48L144.00 163.28L144.50 163.08L145.00 162.87L145.50 162.67L146.00 162.46L146.50 162.26L147.00 162.05L147.50 161.84L148.00 161.64L148.50 161.43L149.00 161.22L149.50 161.01L150.00 160.79L150.50 160.58L151.00 160.37L151.50 160.16L152.00 159.94L152.50 159.73L153.00 159.52L153.50 159.30L154.00 159.08L154.50 158.87L155.00 158.65L155.50 158.44L156.00 158.22L156.50 158.00L157.00 157.78L157.50 157.57L158.00 157.35L158.50 157.13L159.00 156.91L159.50 156.69L160.00 156.47L160.50 156.25L161.00 156.03L161.50 155.81L162.00 155.59L162.50 155.37L163.00 155.15L163.50 154.93L164.00 154.72L164.50 154.50L165.00 154.28L165.50 154.06L166.00 153.84L166.50 153.62L167.00 153.40L167.50 153.18L168.00 152.96L168.50 152.74L169.00 152.52L169.50 152.30L170.00 152.08L170.50 151.87L171.00 151.65L171.50 151.43L172.00 151.21L172.50 151.00L173.00 150.78L173.50 150.56L174.00 150.35L174.50 150.13L175.00 149.92L175.50 149.70L176.00 149.49L176.50 149.27L177.00 149.06L177.50 148.85L178.00 148.63L178.50 148.42L179.00 148.21L179.50 148.00L180.00 147.79L180.50 147.58L181.00 147.37L181.50 147.16L182.00 146.95L182.50 146.74L183.00 146.54L183.50 146.33L184.00 146.13L184.50 145.92L185.00 145.72L185.50 145.51L186.00 145.31L186.50 145.11L187.00 144.90L187.50 144.70L188.00 144.50L188.50 144.30L189.00 144.10L189.50 143.90L190.00 143.71L190.50 143.51L191.00 143.31L191.50 143.12L192.00 142.93L192.50 142.73L193.00 142.54L193.50 142.35L194.00 142.16L194.50 141.98L195.00 141.79L195.50 141.60L196.00 141.42L196.50 141.24L197.00 141.05L197.50 140.87L198.00 140.69L198.50 140.51L199.00 140.34L199.50 140.16L200.00 139.99L200.50 139.81L201.00 139.64L201.50 139.47L202.00 139.30L202.50 139.13L203.00 138.96L203.50 138.80L204.00 138.63L204.50 138.47L205.00 138.31L205.50 138.15L206.00 137.99L206.50 137.83L207.00 137.67L207.50 137.52L208.00 137.36L208.50 137.21L209.00 137.06L209.50 136.91L210.00 136.76L210.50 136.61L211.00 136.47L211.50 136.32L212.00 136.18L212.50 136.04L213.00 135.90L213.50 135.76L214.00 135.62L214.50 135.49L215.00 135.35L215.50 135.22L216.00 135.09L216.50 134.96L217.00 134.83L217.50 134.70L218.00 134.58L218.50 134.45L219.00 134.33L219.50 134.21L220.00 134.09L220.50 133.97L221.00 133.85L221.50 133.73L222.00 133.61L222.50 133.49L223.00 133.37L223.50 133.25L224.00 133.13L224.50 133.02L225.00 132.90L225.50 132.78L226.00 132.66L226.50 132.54L227.00 132.43L227.50 132.31L228.00 132.20L228.50 132.08L229.00 131.97L229.50 131.85L230.00 131.74L230.50 131.63L231.00 131.52L231.50 131.40L232.00 131.30L232.50 131.19L233.00 131.08L233.50 130.97L234.00 130.87L234.50 130.76L235.00 130.66L235.50 130.56L236.00 130.45L236.50 130.35L237.00 130.26L237.50 130.16L238.00 130.06L238.50 129.97L239.00 129.88L239.50 129.79L240.00 129.70L240.50 129.61L241.00 129.52L241.50 129.44L242.00 129.36L242.50 129.27L243.00 129.20L243.50 129.12L244.00 129.04L244.50 128.97L245.00 128.90L245.50 128.83L246.00 128.76L246.50 128.70L247.00 128.64L247.50 128.57L248.00 128.52L248.50 128.46L249.00 128.41L249.50 128.36L250.00 128.31L250.50 128.26L251.00 128.22L251.50 128.17L252.00 128.13L252.50 128.09L253.00 128.05L253.50 128.02L254.00 127.98L254.50 127.95L255.00 127.92L255.50 127.89L256.00 127.86L256.50 127.84L257.00 127.81L257.50 127.79L258.00 127.77L258.50 127.75L259.00 127.73L259.50 127.71L260.00 127.70L260.50 127.69L261.00 127.68L261.50 127.67L262.00 127.66L262.50 127.65L263.00 127.64L263.50 127.64L264.00 127.64L264.50 127.64L265.00 127.64L265.50 127.64L266.00 127.64L266.50 127.65L267.00 127.65L267.50 127.66L268.00 127.67L268.50 127.68L269.00 127.69L269.50 127.71L270.00 127.72L270.50 127.74L271.00 127.75L271.50 127.77L272.00 127.79L272.50 127.81L273.00 127.83L273.50 127.85L274.00 127.88L274.50 127.90L275.00 127.93L275.50 127.96L276.00 127.98L276.50 128.02L277.00 128.05L277.50 128.08L278.00 128.11L278.50 128.15L279.00 128.19L279.50 128.23L280.00 128.27L280.50 128.31L281.00 128.36L281.50 128.40L282.00 128.45L282.50 128.50L283.00 128.55L283.50 128.61L284.00 128.66L284.50 128.72L285.00 128.78L285.50 128.84L286.00 128.91L286.50 128.98L287.00 129.04L287.50 129.11L288.00 129.19L288.50 129.26L289.00 129.34L289.50 129.42L290.00 129.50L290.50 129.59L291.00 129.68L291.50 129.76L292.00 129.86L292.50 129.95L293.00 130.04L293.50 130.14L294.00 130.24L294.50 130.34L295.00 130.44L295.50 130.55L296.00 130.65L296.50 130.76L297.00 130.87L297.50 130.98L298.00 131.09L298.50 131.21L299.00 131.32L299.50 131.44L300.00 131.56L300.50 131.67L301.00 131.80L301.50 131.92L302.00 132.04L302.50 132.16L303.00 132.29L303.50 132.41L304.00 132.54L304.50 132.67L305.00 132.80L305.50 132.93L306.00 133.06L306.50 133.18L307.00 133.31L307.50 133.44L308.00 133.57L308.50 133.70L309.00 133.83L309.50 133.96L310.00 134.10L310.50 134.23L311.00 134.36L311.50 134.50L312.00 134.63L312.50 134.77L313.00 134.91L313.50 135.05L314.00 135.19L314.50 135.33L315.00 135.48L315.50 135.63L316.00 135.77L316.50 135.92L317.00 136.08L317.50 136.23L318.00 136.39L318.50 136.55L319.00 136.71L319.50 136.88L320.00 137.05L320.50 137.22L321.00 137.39L321.50 137.57L322.00 137.75L322.50 137.93L323.00 138.12L323.50 138.31L324.00 138.50L324.50 138.70L325.00 138.90L325.50 139.11L326.00 139.32L326.50 139.52L327.00 139.74L327.50 139.95L328.00 140.16L328.50 140.38L329.00 140.60L329.50 140.82L330.00 141.05L330.50 141.27L331.00 141.50L331.50 141.73L332.00 141.96L332.50 142.20L333.00 142.43L333.50 142.67L334.00 142.91L334.50 143.16L335.00 143.40L335.50 143.65L336.00 143.90L336.50 144.15L337.00 144.40L337.50 144.66L338.00 144.91L338.50 145.17L339.00 145.43L339.50 145.70L340.00 145.96L340.50 146.23L341.00 146.50L341.50 146.77L342.00 147.04L342.50 147.32L343.00 147.60L343.50 147.88L344.00 148.16L344.50 148.44L345.00 148.73L345.50 149.02L346.00 149.31L346.50 149.60L347.00 149.89L347.50 150.19L348.00 150.49L348.50 150.79L349.00 151.09L349.50 151.40L350.00 151.70L350.50 152.01L351.00 152.32L351.50 152.64L352.00 152.95L352.50 153.27L353.00 153.59L353.50 153.91L354.00 154.24L354.50 154.56L355.00 154.89L355.50 155.22L356.00 155.55L356.50 155.89L357.00 156.23L357.50 156.57L358.00 156.91L358.50 157.25L359.00 157.60L359.50 157.95L360.00 158.30L360.50 158.65L361.00 159.01L361.50 159.37L362.00 159.73L362.50 160.10L363.00 160.47L363.50 160.84L364.00 161.22L364.50 161.60L365.00 161.99L365.50 162.37L366.00 162.76L366.50 163.16L367.00 163.56L367.50 163.96L368.00 164.36L368.50 164.77L369.00 165.18L369.50 165.59L370.00 166.01L370.50 166.43L371.00 166.85L371.50 167.28L372.00 167.71L372.50 168.15L373.00 168.58L373.50 169.03L374.00 169.47L374.50 169.92L375.00 170.37L375.50 170.82L376.00 171.28L376.50 171.74L377.00 172.21L377.50 172.68L378.00 173.15L378.50 173.62L379.00 174.10L379.50 174.59L380.00 175.07L380.50 175.56L381.00 176.06L381.50 176.55L382.00 177.05L382.50 177.56L383.00 178.07L383.50 178.58L384.00 179.10L384.50 179.62L385.00 180.14L385.50 180.67L386.00 181.20L386.50 181.74L387.00 182.28L387.50 182.82L388.00 183.37L388.50 183.92L389.00 184.48L389.50 185.04L390.00 185.61L390.50 186.18L391.00 186.76L391.50 187.34L392.00 187.93L392.50 188.52L393.00 189.11L393.50 189.71L394.00 190.32L394.50 190.93L395.00 191.55L395.50 192.17L396.00 192.80L396.50 193.44L397.00 194.08L397.50 194.73L398.00 195.39L398.50 196.05L399.00 196.72L399.50 197.40L400.00 198.09L400.50 198.79L401.00 199.49L401.50 200.21L402.00 200.93L402.50 201.66L403.00 202.40L403.50 203.15L404.00 203.92L404.50 204.69L405.00 205.47L405.50 206.27L406.00 207.07L406.50 207.89L407.00 208.72L407.50 209.57L408.00 210.42L408.50 211.29L409.00 212.18L409.50 213.08L410.00 213.99L410.50 214.93L411.00 215.87L411.50 216.84L412.00 217.82L412.50 218.82L413.00 219.84L413.50 220.88L414.00 221.94L414.50 223.02L415.00 224.12L415.50 225.25L416.00 226.40L416.50 227.58L417.00 228.78L417.50 230.01L418.00 231.27L418.50 232.56L419.00 233.88L419.50 235.24L420.00 236.63L420.50 238.05L421.00 239.52L421.50 241.03L422.00 242.58L422.50 244.17L423.00 245.82L423.50 247.51L424.00 249.26L424.50 251.07L425.00 252.94L425.50 254.88L426.00 256.90L426.50 258.99L427.00 261.16L427.30 262.51L427.35 262.74L427.40 262.97L427.45 263.20L427.50 263.43L427.50 263.43L427.55 263.66L427.60 263.89L427.65 264.12L427.70 264.36L427.75 264.60L427.80 264.83L427.85 265.07L427.90 265.31L427.95 265.55L428.00 265.79L428.00 265.79L428.05 266.03L428.10 266.28L428.15 266.52L428.20 266.77L428.25 267.01L428.30 267.26L428.35 267.51L428.40 267.76L428.45 268.01L428.50 268.26L428.50 268.26L428.55 268.51L428.60 268.77L428.65 269.02L428.70 269.28L428.75 269.54L428.80 269.80L428.85 270.06L428.90 270.32L428.95 270.58L429.00 270.85L429.00 270.85L429.05 271.12L429.10 271.38L429.15 271.65L429.20 271.92L429.25 272.19L429.30 272.46L429.35 272.74L429.40 273.01L429.45 273.29L429.50 273.57L429.50 273.57L429.55 273.85L429.60 274.13L429.65 274.41L429.70 274.69L429.75 274.98L429.80 275.26L429.85 275.55L429.90 275.84L429.95 276.13L430.00 276.43L430.00 276.43L430.05 276.72L430.10 277.02L430.15 277.31L430.20 277.61L430.25 277.91L430.30 278.22L430.35 278.52L430.40 278.83L430.45 279.13L430.50 279.44L430.50 279.44L430.55 279.75L430.60 280.07L430.65 280.38L430.70 280.70L430.75 281.02L430.80 281.34L430.85 281.66L430.90 281.98L430.95 282.31L431.00 282.63L431.00 282.63L431.05 282.96L431.10 283.30L431.15 283.63L431.20 283.97L431.25 284.30L431.30 284.64L431.35 284.99L431.40 285.33L431.45 285.68L431.50 286.02L431.50 286.02L431.55 286.38L431.60 286.73L431.65 287.08L431.70 287.44L431.75 287.80L431.80 288.16L431.85 288.53L431.90 288.90L431.95 289.27L432.00 289.64L432.00 289.64L432.05 290.01L432.10 290.39L432.15 290.77L432.20 291.15L432.25 291.54L432.30 291.93L432.35 292.32L432.40 292.71L432.45 293.11L432.50 293.51L432.50 293.51L432.55 293.91L432.60 294.31L432.65 294.72L432.70 295.13L432.75 295.55L432.80 295.97L432.85 296.39L432.90 296.81L432.95 297.24L433.00 297.67L433.00 297.67L433.05 298.10L433.10 298.54L433.15 298.98L433.20 299.43L433.25 299.87L433.30 300.33L433.35 300.78L433.40 301.24L433.45 301.70L433.50 302.17L433.50 302.17L433.55 302.64L433.60 303.12L433.65 303.60L433.70 304.08L433.75 304.57L433.80 305.06L433.85 305.56L433.90 306.06L433.95 306.57L434.00 307.08L434.00 307.08L434.05 307.60L434.10 308.12L434.15 308.64L434.20 309.17L434.25 309.71L434.30 310.25L434.35 310.80L434.40 311.35L434.45 311.91L434.50 312.47L434.50 312.47L434.55 313.04L434.60 313.62L434.65 314.20L434.70 314.79L434.75 315.38L434.80 315.98L434.85 316.59L434.90 317.20L434.95 317.82L435.00 318.45L435.00 318.45L435.05 319.09L435.10 319.73L435.15 320.38L435.20 321.04L435.25 321.71L435.30 322.38L435.35 323.07L435.40 323.76L435.45 324.46L435.50 325.17L435.50 325.17L435.55 325.89L435.60 326.62L435.65 327.36L435.70 328.10L435.75 328.86L435.80 329.63L435.85 330.42L435.90 331.21L435.95 332.01L436.00 332.83L436.00 332.83L436.05 333.66L436.10 334.50L436.15 335.35L436.20 336.22L436.25 337.10L436.30 338.00L436.35 338.91L436.40 339.84L436.45 340.78L436.50 341.74L436.50 341.74L436.55 342.72L436.60 343.71L436.65 344.73L436.70 345.76L436.75 346.81L436.80 347.89L436.85 348.98L436.90 350.10L436.95 351.24L437.00 352.41L437.00 352.41L437.05 353.60L437.10 354.81L437.15 356.06L437.20 357.33L437.25 358.64L437.30 359.98L437.35 361.35L437.40 362.75L437.45 364.20L437.50 365.68L437.50 365.68L437.55 367.21L437.60 368.78L437.65 370.39L437.70 372.06L437.75 373.78L437.80 375.55L437.85 377.39L437.90 379.28L437.95 381.25L438.00 383.29L438.00 383.29L438.05 385.41L438.10 387.62L438.15 389.92L438.20 392.33L438.25 394.84L438.30 397.48L438.35 400.25L438.40 403.18L438.45 406.27L438.50 409.54L438.50 409.54L438.55 411.75L438.60 411.75L438.65 411.75L438.70 411.75L438.75 411.75L438.80 411.75L438.85 411.75L438.90 411.75L438.95 411.75L439.00 411.75L439.00 411.75L439.05 411.75L439.10 411.75L439.15 411.75L439.20 411.75L439.25 411.75L439.35 411.75L439.40 411.75L439.45 411.75L439.50 411.75L439.50 411.75L439.55 411.75L439.60 411.75L439.65 411.75L439.70 411.75L439.75 411.75L439.80 411.75L439.85 411.75L439.90 411.75L439.95 411.75L440.00 411.75L440.00 411.75L440.05 411.75L440.10 409.71L440.15 406.44L440.20 403.37L440.25 400.45L440.30 397.69L440.35 395.06L440.40 392.56L440.45 390.16L440.50 387.87L440.50 387.87L440.55 385.68L440.60 383.57L440.65 381.53L440.70 379.58L440.75 377.69L440.80 375.86L440.85 374.10L440.90 372.39L440.95 370.74L441.00 369.13L441.00 369.13L441.05 367.57L441.10 366.06L441.15 364.59L441.20 363.15L441.25 361.76L441.30 360.40L441.35 359.07L441.40 357.77L441.45 356.51L441.50 355.27L441.50 355.27L441.55 354.07L441.60 352.89L441.65 351.73L441.70 350.60L441.75 349.49L441.80 348.41L441.85 347.35L441.90 346.30L441.95 345.28L442.00 344.28L442.00 344.28L442.05 343.29L442.10 342.33L442.15 341.38L442.20 340.44L442.25 339.53L442.30 338.63L442.35 337.74L442.40 336.87L442.45 336.01L442.50 335.17L442.50 335.17L442.55 334.33L442.60 333.52L442.65 332.71L442.70 331.92L442.75 331.13L442.80 330.36L442.85 329.60L442.90 328.85L442.95 328.12L443.00 327.39L443.00 327.39L443.05 326.67L443.10 325.96L443.15 325.26L443.20 324.57L443.25 323.89L443.30 323.21L443.35 322.55L443.40 321.89L443.45 321.24L443.50 320.60L443.50 320.60L443.55 319.97L443.60 319.35L443.65 318.73L443.70 318.12L443.75 317.51L443.80 316.91L443.85 316.32L443.90 315.74L443.95 315.16L444.00 314.59L444.00 314.59L444.05 314.03L444.10 313.47L444.15 312.91L444.20 312.36L444.25 311.82L444.30 311.29L444.35 310.75L444.40 310.23L444.45 309.71L444.50 309.19L444.50 309.19L444.55 308.68L444.60 308.18L444.65 307.67L444.70 307.18L444.75 306.69L444.80 306.20L444.85 305.72L444.90 305.24L444.95 304.76L445.00 304.29L445.00 304.29L445.05 303.83L445.10 303.37L445.15 302.91L445.20 302.46L445.25 302.01L445.30 301.56L445.35 301.12L445.40 300.68L445.45 300.25L445.50 299.81L445.50 299.81L445.55 299.39L445.60 298.96L445.65 298.54L445.70 298.12L445.75 297.71L445.80 297.30L445.85 296.89L445.90 296.49L445.95 296.08L446.00 295.69L446.00 295.69L446.05 295.29L446.10 294.90L446.15 294.51L446.20 294.12L446.25 293.74L446.30 293.36L446.35 292.98L446.40 292.60L446.45 292.23L446.50 291.86L446.50 291.86L446.55 291.49L446.60 291.13L446.65 290.76L446.70 290.40L446.75 290.05L446.80 289.69L446.85 289.34L446.90 288.99L446.95 288.64L447.00 288.29L447.00 288.29L447.05 287.95L447.10 287.61L447.15 287.27L447.20 286.93L447.25 286.60L447.30 286.27L447.35 285.93L447.40 285.61L447.45 285.28L447.50 284.96L447.50 284.96L447.55 284.63L447.60 284.31L447.65 283.99L447.70 283.68L447.75 283.36L447.80 283.05L447.85 282.74L447.90 282.43L447.95 282.12L448.00 281.82L448.00 281.82L448.05 281.52L448.10 281.21L448.15 280.91L448.20 280.62L448.25 280.32L448.30 280.02L448.35 279.73L448.40 279.44L448.45 279.15L448.50 278.86L448.50 278.86L448.55 278.57L448.60 278.29L448.65 278.00L448.70 277.72L448.75 277.44L448.80 277.16L448.85 276.89L448.90 276.61L448.95 276.33L449.00 276.06L449.00 276.06L449.05 275.79L449.10 275.52L449.15 275.25L449.20 274.98L449.25 274.72L449.30 274.45L449.35 274.19L449.40 273.93L449.45 273.67L449.50 273.41L449.50 273.41L449.55 273.15L449.60 272.89L449.65 272.64L449.70 272.38L449.75 272.13L449.80 271.88L449.85 271.62L449.90 271.38L449.95 271.13L450.00 270.88L450.00 270.88L450.05 270.63L450.10 270.39L450.15 270.15L450.20 269.90L450.25 269.66L450.30 269.42L450.35 269.18L450.40 268.94L450.45 268.71L450.50 268.47L450.50 268.47L450.55 268.24L450.60 268.00L450.65 267.77L450.70 267.54L450.75 267.31L450.80 267.08L450.85 266.85L450.90 266.62L450.95 266.40L451.00 266.17L451.00 266.17L451.05 265.95L451.10 265.72L451.15 265.50L451.20 265.28L451.25 265.06L451.50 263.97L452.00 261.86L452.50 259.83L453.00 257.88L453.50 255.99L454.00 254.18L454.50 252.43L455.00 250.73L455.50 249.10L456.00 247.51L456.50 245.97L457.00 244.48L457.50 243.04L458.00 241.63L458.50 240.27L459.00 238.94L459.50 237.65L460.00 236.39L460.50 235.16L461.00 233.97L461.50 232.80L462.00 231.66L462.50 230.55L463.00 229.46L463.50 228.40L464.00 227.36L464.50 226.34L465.00 225.34L465.50 224.36L466.00 223.41L466.50 222.46L467.00 221.54L467.50 220.64L468.00 219.75L468.50 218.87L469.00 218.01L469.50 217.17L470.00 216.33L470.50 215.52L471.00 214.71L471.50 213.91L472.00 213.13L472.50 212.36L473.00 211.60L473.50 210.85L474.00 210.10L474.50 209.37L475.00 208.65L475.50 207.93L476.00 207.23L476.50 206.53L477.00 205.85L477.50 205.17L478.00 204.50L478.50 203.84L479.00 203.19L479.50 202.55L480.00 201.91L480.50 201.29L481.00 200.67L481.50 200.06L482.00 199.46L482.50 198.86L483.00 198.27L483.50 197.69L484.00 197.12L484.50 196.55L485.00 195.99L485.50 195.43L486.00 194.89L486.50 194.34L487.00 193.81L487.50 193.28L488.00 192.76L488.50 192.24L489.00 191.73L489.50 191.23L490.00 190.73L490.50 190.23L491.00 189.75L491.50 189.27L492.00 188.79L492.50 188.32L493.00 187.85L493.50 187.39L494.00 186.94L494.50 186.49L495.00 186.04L495.50 185.60L496.00 185.17L496.50 184.74L497.00 184.32L497.50 183.90L498.00 183.48L498.50 183.07L499.00 182.67L499.50 182.27L500.00 181.88L500.50 181.49L501.00 181.10L501.50 180.72L502.00 180.34L502.50 179.96L503.00 179.59L503.50 179.23L504.00 178.86L504.50 178.50L505.00 178.15L505.50 177.79L506.00 177.45L506.50 177.10L507.00 176.76L507.50 176.42L508.00 176.08L508.50 175.75L509.00 175.42L509.50 175.10L510.00 174.77L510.50 174.45L511.00 174.14L511.50 173.82L512.00 173.51L512.50 173.21L513.00 172.90L513.50 172.60L514.00 172.30L514.50 172.01L515.00 171.71L515.50 171.43L516.00 171.14L516.50 170.85L517.00 170.57L517.50 170.29L518.00 170.02L518.50 169.74L519.00 169.47L519.50 169.21L520.00 168.94L520.50 168.68L521.00 168.42L521.50 168.16L522.00 167.90L522.50 167.65L523.00 167.40L523.50 167.15L524.00 166.91L524.50 166.66L525.00 166.42L525.50 166.19L526.00 165.95L526.50 165.72L527.00 165.48L527.50 165.26L528.00 165.03L528.50 164.80L529.00 164.58L529.50 164.36L530.00 164.14L530.50 163.93L531.00 163.71L531.50 163.50L532.00 163.29L532.50 163.08L533.00 162.87L533.50 162.66L534.00 162.46L534.50 162.25L535.00 162.05L535.50 161.85L536.00 161.65L536.50 161.45L537.00 161.26L537.50 161.06L538.00 160.87L538.50 160.68L539.00 160.49L539.50 160.30L540.00 160.11L540.50 159.93L541.00 159.75L541.50 159.56L542.00 159.38L542.50 159.20L543.00 159.03L543.50 158.85L544.00 158.68L544.50 158.51L545.00 158.34L545.50 158.17L546.00 158.00L546.50 157.84L547.00 157.67L547.50 157.51L548.00 157.35L548.50 157.19L549.00 157.04L549.50 156.88L550.00 156.73L550.50 156.58L551.00 156.43L551.50 156.28L552.00 156.14L552.50 155.99L553.00 155.85L553.50 155.71L554.00 155.57L554.50 155.44L555.00 155.30L555.50 155.17L556.00 155.04L556.50 154.91L557.00 154.78L557.50 154.66L558.00 154.53L558.50 154.41L559.00 154.29L559.50 154.17L560.00 154.05L560.50 153.93L561.00 153.82L561.50 153.70L562.00 153.59L562.50 153.48L563.00 153.37L563.50 153.26L564.00 153.15L564.50 153.05L565.00 152.94L565.50 152.84L566.00 152.74L566.50 152.64L567.00 152.54L567.50 152.44L568.00 152.35L568.50 152.25L569.00 152.16L569.50 152.07L570.00 151.98L570.50 151.89L571.00 151.81L571.50 151.72L572.00 151.64L572.50 151.56L573.00 151.48L573.50 151.40L574.00 151.32L574.50 151.24L575.00 151.17L575.50 151.09L576.00 151.02L576.50 150.95L577.00 150.88L577.50 150.82L578.00 150.75L578.50 150.69L579.00 150.62L579.50 150.56L580.00 150.50L580.50 150.44L581.00 150.38L581.50 150.33L582.00 150.28L582.50 150.22L583.00 150.17L583.50 150.12L584.00 150.07L584.50 150.03L585.00 149.98L585.50 149.94L586.00 149.89L586.50 149.85L587.00 149.81L587.50 149.78L588.00 149.74L588.50 149.71L589.00 149.67L589.50 149.64L590.00 149.61L590.50 149.58L591.00 149.55L591.50 149.53L592.00 149.50L592.50 149.48L593.00 149.46L593.50 149.44L594.00 149.42L594.50 149.40L595.00 149.39L595.50 149.38L596.00 149.36L596.50 149.35L597.00 149.34L597.50 149.34L598.00 149.33L598.50 149.32L599.00 149.32L599.50 149.32L600.00 149.32L600.50 149.32L601.00 149.32L601.50 149.33L602.00 149.33L602.50 149.34L603.00 149.35L603.50 149.36L604.00 149.37L604.50 149.38L605.00 149.39L605.50 149.41L606.00 149.42L606.50 149.44L607.00 149.46L607.50 149.48L608.00 149.50L608.50 149.52L609.00 149.54L609.50 149.57L610.00 149.59L610.50 149.62L611.00 149.65L611.50 149.68L612.00 149.71L612.50 149.74L613.00 149.78L613.50 149.81L614.00 149.85L614.50 149.89L615.00 149.93L615.50 149.97L616.00 150.01L616.50 150.06L617.00 150.10L617.50 150.15L618.00 150.19L618.50 150.24L619.00 150.29L619.50 150.35L620.00 150.40L620.50 150.45L621.00 150.51L621.50 150.57L622.00 150.63L622.50 150.69L623.00 150.75L623.50 150.81L624.00 150.88L624.50 150.94L625.00 151.01L625.50 151.08L626.00 151.15L626.50 151.22L627.00 151.29L627.50 151.37L628.00 151.44L628.50 151.52L629.00 151.60L629.50 151.68L630.00 151.76L630.50 151.85L631.00 151.93L631.50 152.02L632.00 152.10L632.50 152.19L633.00 152.28L633.50 152.38L634.00 152.47L634.50 152.56L635.00 152.66L635.50 152.76L636.00 152.86L636.50 152.96L637.00 153.06L637.50 153.17L638.00 153.27L638.50 153.38L639.00 153.49L639.50 153.60L640.00 153.71L640.50 153.82L641.00 153.94L641.50 154.05L642.00 154.17L642.50 154.29L643.00 154.41L643.50 154.53L644.00 154.65L644.50 154.78L645.00 154.91L645.50 155.03L646.00 155.16L646.50 155.29L647.00 155.42L647.50 155.56L648.00 155.69L648.50 155.83L649.00 155.96L649.50 156.10L650.00 156.24L650.50 156.38L651.00 156.52L651.50 156.66L652.00 156.81L652.50 156.95L653.00 157.10L653.50 157.25L654.00 157.40L654.50 157.55L655.00 157.70L655.50 157.85L656.00 158.01L656.50 158.17L657.00 158.32L657.50 158.48L658.00 158.64L658.50 158.80L659.00 158.96L659.50 159.13L660.00 159.29L660.50 159.46L661.00 159.63L661.50 159.80L662.00 159.97L662.50 160.14L663.00 160.31L663.50 160.49L664.00 160.66L664.50 160.84L665.00 161.02L665.50 161.20L666.00 161.38L666.50 161.56L667.00 161.75L667.50 161.93L668.00 162.12L668.50 162.31L669.00 162.50L669.50 162.69L670.00 162.88L670.50 163.08L671.00 163.27L671.50 163.47L672.00 163.67L672.50 163.86L673.00 164.07L673.50 164.27L674.00 164.47L674.50 164.67L675.00 164.88L675.50 165.09L676.00 165.29L676.50 165.50L677.00 165.71L677.50 165.93L678.00 166.14L678.50 166.35L679.00 166.57L679.50 166.78L680.00 167.00L680.50 167.22L681.00 167.44L681.50 167.66L682.00 167.88L682.50 168.11L683.00 168.33L683.50 168.56L684.00 168.78L684.50 169.01L685.00 169.24L685.50 169.47L686.00 169.71L686.50 169.94L687.00 170.17L687.50 170.41L688.00 170.65L688.50 170.88L689.00 171.12L689.50 171.36L690.00 171.61L690.50 171.85L691.00 172.09L691.50 172.34L692.00 172.59L692.50 172.83L693.00 173.08L693.50 173.33L694.00 173.59L694.50 173.84L695.00 174.09L695.50 174.35L696.00 174.60L696.50 174.86L697.00 175.12L697.50 175.38L698.00 175.64L698.50 175.91L699.00 176.17L699.50 176.43L700.00 176.70L700.50 176.97L701.00 177.24L701.50 177.51L702.00 177.78L702.50 178.05L703.00 178.33L703.50 178.60L704.00 178.88L704.50 179.15L705.00 179.43L705.50 179.71L706.00 180.00L706.50 180.28L707.00 180.56L707.50 180.85L708.00 181.13L708.50 181.42L709.00 181.71L709.50 182.00L710.00 182.29L710.50 182.59L711.00 182.88L711.50 183.17L712.00 183.47L712.50 183.77L713.00 184.07L713.50 184.37L714.00 184.67L714.50 184.97L715.00 185.28L715.50 185.58L716.00 185.89L716.50 186.20L717.00 186.51L717.50 186.82L718.00 187.13L718.50 187.45L719.00 187.76L719.50 188.08L720.00 188.40L720.50 188.72L721.00 189.04L721.50 189.36L722.00 189.68L722.50 190.01L723.00 190.33L723.50 190.66L724.00 190.99L724.50 191.32L725.00 191.66L725.50 191.99L726.00 192.33L726.50 192.67L727.00 193.01L727.50 193.35L728.00 193.70L728.50 194.04L729.00 194.39L729.50 194.74L730.00 195.09L730.50 195.45L731.00 195.80L731.50 196.16L732.00 196.51L732.50 196.87L733.00 197.24L733.50 197.60L734.00 197.96L734.50 198.33L735.00 198.70L735.50 199.07L736.00 199.44L736.50 199.81L737.00 200.19L737.50 200.57L738.00 200.94L738.50 201.33L739.00 201.71L739.50 202.09L740.00 202.48L740.50 202.86L741.00 203.25L741.50 203.64L742.00 204.04L742.50 204.43L743.00 204.83L743.50 205.23L744.00 205.63L744.50 206.03L745.00 206.43L745.50 206.84L746.00 207.24L746.50 207.65L747.00 208.06L747.50 208.47L748.00 208.89L748.50 209.30L749.00 209.72L749.50 210.14L750.00 210.56L750.50 210.99L751.00 211.41L751.50 211.84L752.00 212.27L752.50 212.70L753.00 213.13L753.50 213.56L754.00 214.00L754.50 214.44L755.00 214.88L755.50 215.32L756.00 215.76L756.50 216.21L757.00 216.65L757.50 217.10L758.00 217.55L758.50 218.01L759.00 218.46L759.50 218.92L760.00 219.38L760.50 219.84L761.00 220.30L761.50 220.77L762.00 221.23L762.50 221.70L763.00 222.17L763.50 222.64L764.00 223.12L764.50 223.59L765.00 224.07L765.50 224.55L766.00 225.03L766.50 225.50L767.00 225.97L767.50 226.44L768.00 226.92L768.50 227.39L769.00 227.87L769.50 228.35L770.00 228.83L770.50 229.32L771.00 229.81L771.50 230.29L772.00 230.79" stroke="#f00" stroke-width="2.7" stroke-dasharray="2 2.44"/>
<path d="M135.00 194.30L135.50 194.09L136.00 193.87L136.50 193.67L137.00 193.47L137.50 193.26L138.00 193.06L138.50 192.85L139.00 192.64L139.50 192.44L140.00 192.23L140.50 192.02L141.00 191.81L141.50 191.60L142.00 191.39L142.50 191.18L143.00 190.97L143.50 190.76L144.00 190.55L144.50 190.33L145.00 190.12L145.50 189.91L146.00 189.70L146.50 189.48L147.00 189.27L147.50 189.05L148.00 188.84L148.50 188.62L149.00 188.41L149.50 188.19L150.00 187.98L150.50 187.76L151.00 187.54L151.50 187.33L152.00 187.11L152.50 186.89L153.00 186.68L153.50 186.46L154.00 186.24L154.50 186.03L155.00 185.81L155.50 185.59L156.00 185.38L156.50 185.16L157.00 184.94L157.50 184.72L158.00 184.51L158.50 184.29L159.00 184.07L159.50 183.85L160.00 183.64L160.50 183.42L161.00 183.20L161.50 182.99L162.00 182.77L162.50 182.55L163.00 182.34L163.50 182.12L164.00 181.90L164.50 181.69L165.00 181.47L165.50 181.26L166.00 181.04L166.50 180.83L167.00 180.61L167.50 180.40L168.00 180.18L168.50 179.97L169.00 179.76L169.50 179.54L170.00 179.33L170.50 179.12L171.00 178.91L171.50 178.69L172.00 178.48L172.50 178.27L173.00 178.06L173.50 177.85L174.00 177.64L174.50 177.43L175.00 177.22L175.50 177.02L176.00 176.81L176.50 176.60L177.00 176.39L177.50 176.19L178.00 175.98L178.50 175.78L179.00 175.57L179.50 175.37L180.00 175.16L180.50 174.96L181.00 174.76L181.50 174.55L182.00 174.35L182.50 174.15L183.00 173.95L183.50 173.75L184.00 173.55L184.50 173.36L185.00 173.16L185.50 172.96L186.00 172.76L186.50 172.57L187.00 172.37L187.50 172.18L188.00 171.99L188.50 171.79L189.00 171.60L189.50 171.41L190.00 171.22L190.50 171.03L191.00 170.84L191.50 170.65L192.00 170.46L192.50 170.28L193.00 170.09L193.50 169.91L194.00 169.72L194.50 169.54L195.00 169.36L195.50 169.18L196.00 169.00L196.50 168.82L197.00 168.64L197.50 168.46L198.00 168.29L198.50 168.11L199.00 167.94L199.50 167.77L200.00 167.60L200.50 167.43L201.00 167.26L201.50 167.09L202.00 166.92L202.50 166.75L203.00 166.59L203.50 166.42L204.00 166.26L204.50 166.10L205.00 165.94L205.50 165.78L206.00 165.62L206.50 165.46L207.00 165.30L207.50 165.15L208.00 164.99L208.50 164.84L209.00 164.69L209.50 164.54L210.00 164.39L210.50 164.24L211.00 164.09L211.50 163.95L212.00 163.80L212.50 163.66L213.00 163.51L213.50 163.37L214.00 163.23L214.50 163.09L215.00 162.96L215.50 162.82L216.00 162.68L216.50 162.55L217.00 162.42L217.50 162.29L218.00 162.15L218.50 162.03L219.00 161.90L219.50 161.77L220.00 161.65L220.50 161.52L221.00 161.40L221.50 161.28L222.00 161.15L222.50 161.03L223.00 160.91L223.50 160.79L224.00 160.68L224.50 160.56L225.00 160.44L225.50 160.33L226.00 160.22L226.50 160.10L227.00 159.99L227.50 159.88L228.00 159.77L228.50 159.66L229.00 159.56L229.50 159.45L230.00 159.35L230.50 159.24L231.00 159.14L231.50 159.04L232.00 158.94L232.50 158.84L233.00 158.74L233.50 158.64L234.00 158.55L234.50 158.45L235.00 158.36L235.50 158.27L236.00 158.17L236.50 158.08L237.00 158.00L237.50 157.91L238.00 157.82L238.50 157.74L239.00 157.65L239.50 157.57L240.00 157.49L240.50 157.41L241.00 157.33L241.50 157.25L242.00 157.18L242.50 157.10L243.00 157.03L243.50 156.96L244.00 156.89L244.50 156.82L245.00 156.75L245.50 156.68L246.00 156.62L246.50 156.55L247.00 156.49L247.50 156.43L248.00 156.37L248.50 156.31L249.00 156.26L249.50 156.20L250.00 156.15L250.50 156.09L251.00 156.04L251.50 155.99L252.00 155.94L252.50 155.89L253.00 155.84L253.50 155.79L254.00 155.75L254.50 155.70L255.00 155.66L255.50 155.61L256.00 155.57L256.50 155.53L257.00 155.49L257.50 155.45L258.00 155.41L258.50 155.37L259.00 155.34L259.50 155.30L260.00 155.27L260.50 155.23L261.00 155.20L261.50 155.17L262.00 155.14L262.50 155.12L263.00 155.09L263.50 155.07L264.00 155.04L264.50 155.02L265.00 155.00L265.50 154.98L266.00 154.97L266.50 154.95L267.00 154.94L267.50 154.92L268.00 154.91L268.50 154.90L269.00 154.90L269.50 154.89L270.00 154.88L270.50 154.88L271.00 154.88L271.50 154.88L272.00 154.88L272.50 154.89L273.00 154.89L273.50 154.90L274.00 154.90L274.50 154.91L275.00 154.92L275.50 154.93L276.00 154.94L276.50 154.95L277.00 154.96L277.50 154.98L278.00 154.99L278.50 155.01L279.00 155.03L279.50 155.05L280.00 155.07L280.50 155.09L281.00 155.12L281.50 155.15L282.00 155.17L282.50 155.20L283.00 155.24L283.50 155.27L284.00 155.31L284.50 155.35L285.00 155.39L285.50 155.43L286.00 155.48L286.50 155.53L287.00 155.58L287.50 155.63L288.00 155.68L288.50 155.74L289.00 155.80L289.50 155.87L290.00 155.93L290.50 156.00L291.00 156.07L291.50 156.14L292.00 156.22L292.50 156.29L293.00 156.37L293.50 156.45L294.00 156.53L294.50 156.61L295.00 156.69L295.50 156.78L296.00 156.86L296.50 156.95L297.00 157.04L297.50 157.13L298.00 157.22L298.50 157.32L299.00 157.41L299.50 157.51L300.00 157.61L300.50 157.71L301.00 157.81L301.50 157.91L302.00 158.02L302.50 158.13L303.00 158.23L303.50 158.34L304.00 158.45L304.50 158.56L305.00 158.68L305.50 158.79L306.00 158.91L306.50 159.02L307.00 159.14L307.50 159.26L308.00 159.38L308.50 159.51L309.00 159.63L309.50 159.76L310.00 159.88L310.50 160.01L311.00 160.14L311.50 160.27L312.00 160.40L312.50 160.53L313.00 160.66L313.50 160.80L314.00 160.94L314.50 161.07L315.00 161.21L315.50 161.35L316.00 161.49L316.50 161.63L317.00 161.77L317.50 161.92L318.00 162.06L318.50 162.21L319.00 162.36L319.50 162.50L320.00 162.65L320.50 162.80L321.00 162.95L321.50 163.10L322.00 163.26L322.50 163.41L323.00 163.57L323.50 163.72L324.00 163.88L324.50 164.04L325.00 164.19L325.50 164.35L326.00 164.51L326.50 164.67L327.00 164.84L327.50 165.00L328.00 165.16L328.50 165.33L329.00 165.49L329.50 165.66L330.00 165.82L330.50 165.99L331.00 166.16L331.50 166.33L332.00 166.50L332.50 166.67L333.00 166.85L333.50 167.02L334.00 167.20L334.50 167.37L335.00 167.55L335.50 167.73L336.00 167.91L336.50 168.09L337.00 168.27L337.50 168.46L338.00 168.64L338.50 168.83L339.00 169.01L339.50 169.20L340.00 169.39L340.50 169.58L341.00 169.77L341.50 169.96L342.00 170.15L342.50 170.35L343.00 170.54L343.50 170.74L344.00 170.94L344.50 171.13L345.00 171.33L345.50 171.53L346.00 171.73L346.50 171.94L347.00 172.14L347.50 172.35L348.00 172.55L348.50 172.76L349.00 172.97L349.50 173.17L350.00 173.38L350.50 173.59L351.00 173.81L351.50 174.02L352.00 174.23L352.50 174.45L353.00 174.66L353.50 174.88L354.00 175.10L354.50 175.32L355.00 175.54L355.50 175.76L356.00 175.98L356.50 176.20L357.00 176.43L357.50 176.65L358.00 176.88L358.50 177.10L359.00 177.33L359.50 177.56L360.00 177.79L360.50 178.02L361.00 178.25L361.50 178.49L362.00 178.72L362.50 178.95L363.00 179.19L363.50 179.43L364.00 179.66L364.50 179.90L365.00 180.14L365.50 180.38L366.00 180.62L366.50 180.87L367.00 181.11L367.50 181.35L368.00 181.60L368.50 181.84L369.00 182.09L369.50 182.34L370.00 182.59L370.50 182.84L371.00 183.09L371.50 183.34L372.00 183.59L372.50 183.85L373.00 184.10L373.50 184.36L374.00 184.61L374.50 184.87L375.00 185.13L375.50 185.39L376.00 185.65L376.50 185.91L377.00 186.17L377.50 186.44L378.00 186.70L378.50 186.96L379.00 187.23L379.50 187.50L380.00 187.76L380.50 188.03L381.00 188.30L381.50 188.57L382.00 188.84L382.50 189.11L383.00 189.39L383.50 189.66L384.00 189.94L384.50 190.21L385.00 190.49L385.50 190.77L386.00 191.04L386.50 191.32L387.00 191.60L387.50 191.88L388.00 192.17L388.50 192.45L389.00 192.73L389.50 193.02L390.00 193.30L390.50 193.59L391.00 193.88L391.50 194.17L392.00 194.45L392.50 194.74L393.00 195.04L393.50 195.33L394.00 195.62L394.50 195.91L395.00 196.21L395.50 196.50L396.00 196.80L396.50 197.10L397.00 197.40L397.50 197.69L398.00 197.99L398.50 198.30L399.00 198.60L399.50 198.90L400.00 199.20L400.50 199.51L401.00 199.81L401.50 200.12L402.00 200.43L402.50 200.74L403.00 201.04L403.50 201.35L404.00 201.67L404.50 201.98L405.00 202.29L405.50 202.60L406.00 202.92L406.50 203.23L407.00 203.55L407.50 203.87L408.00 204.19L408.50 204.50L409.00 204.82L409.50 205.15L410.00 205.47L410.50 205.79L411.00 206.11L411.50 206.44L412.00 206.76L412.50 207.09L413.00 207.42L413.50 207.75L414.00 208.08L414.50 208.41L415.00 208.74L415.50 209.07L416.00 209.41L416.50 209.74L417.00 210.07L417.50 210.41L418.00 210.75L418.50 211.09L419.00 211.43L419.50 211.77L420.00 212.11L420.50 212.45L421.00 212.79L421.50 213.14L422.00 213.48L422.50 213.83L423.00 214.18L423.50 214.53L424.00 214.87L424.50 215.23L425.00 215.58L425.50 215.93L426.00 216.28L426.50 216.64L427.00 216.99L427.50 217.35L428.00 217.71L428.50 218.07L429.00 218.43L429.50 218.79L430.00 219.15L430.50 219.52L431.00 219.88L431.50 220.25L432.00 220.61L432.50 220.98L433.00 221.35L433.50 221.72L434.00 222.09L434.50 222.46L435.00 222.84L435.50 223.21L436.00 223.59L436.50 223.97L437.00 224.35L437.50 224.73L438.00 225.11L438.50 225.49L439.00 225.87L439.50 226.26L440.00 226.64L440.50 227.03L441.00 227.42L441.50 227.81L442.00 228.20L442.50 228.59L443.00 228.99L443.50 229.38L444.00 229.78L444.50 230.18L445.00 230.58L445.50 230.98L446.00 231.38L446.50 231.79L447.00 232.19L447.50 232.60L448.00 233.01L448.50 233.42L449.00 233.83L449.50 234.24L450.00 234.65L450.50 235.07L451.00 235.49L451.50 235.91L452.00 236.33L452.50 236.75L453.00 237.17L453.50 237.60L454.00 238.03L454.50 238.45L455.00 238.88L455.50 239.32L456.00 239.75L456.50 240.19L457.00 240.62L457.50 241.06L458.00 241.50L458.50 241.95L459.00 242.39L459.50 242.84L460.00 243.29L460.50 243.74L461.00 244.19L461.50 244.64L462.00 245.10L462.50 245.56L463.00 246.02L463.50 246.48L464.00 246.95L464.50 247.41L465.00 247.88L465.50 248.36L466.00 248.83L466.50 249.30L467.00 249.78L467.50 250.26L468.00 250.75L468.50 251.23L469.00 251.72L469.50 252.21L470.00 252.70L470.50 253.20L471.00 253.69L471.50 254.19L472.00 254.70L472.50 255.20L473.00 255.71L473.50 256.22L474.00 256.73L474.50 257.25L475.00 257.77L475.50 258.29L476.00 258.82L476.50 259.35L477.00 259.88L477.50 260.41L478.00 260.95L478.50 261.49L479.00 262.03L479.50 262.58L480.00 263.13L480.50 263.69L481.00 264.24L481.50 264.81L482.00 265.37L482.50 265.94L483.00 266.51L483.50 267.09L484.00 267.67L484.50 268.25L485.00 268.84L485.50 269.44L486.00 270.03L486.50 270.63L487.00 271.24L487.50 271.85L488.00 272.46L488.50 273.08L489.00 273.71L489.50 274.34L490.00 274.97L490.50 275.61L491.00 276.25L491.50 276.90L492.00 277.55L492.50 278.21L493.00 278.88L493.50 279.55L494.00 280.23L494.50 280.91L495.00 281.60L495.50 282.29L496.00 283.00L496.50 283.70L497.00 284.42L497.50 285.14L498.00 285.87L498.50 286.60L499.00 287.35L499.50 288.10L500.00 288.85L500.50 289.62L501.00 290.39L501.50 291.17L502.00 291.97L502.50 292.76L503.00 293.57L503.50 294.39L504.00 295.22L504.50 296.05L505.00 296.90L505.50 297.75L506.00 298.62L506.50 299.50L507.00 300.39L507.50 301.29L508.00 302.20L508.50 303.13L509.00 304.06L509.50 305.01L510.00 305.98L510.50 306.95L511.00 307.95L511.50 308.95L512.00 309.97L512.50 311.01L513.00 312.07L513.50 313.14L514.00 314.23L514.50 315.33L515.00 316.46L515.50 317.60L516.00 318.77L516.50 319.96L517.00 321.17L517.50 322.40L518.00 323.66L518.50 324.94L519.00 326.25L519.50 327.59L520.00 328.96L520.50 330.35L521.00 331.78L521.50 333.24L522.00 334.74L522.50 336.28L523.00 337.85L523.50 339.47L524.00 341.12L524.50 342.83L525.00 344.59L525.50 346.39L526.00 348.26L526.50 350.18L527.00 352.17L527.50 354.22L528.00 356.36L528.50 358.57L529.00 360.86L529.05 361.10L529.10 361.33L529.15 361.57L529.20 361.81L529.25 362.04L529.30 362.28L529.35 362.52L529.40 362.77L529.45 363.01L529.50 363.25L529.50 363.25L529.55 363.50L529.60 363.74L529.65 363.99L529.70 364.24L529.75 364.48L529.80 364.73L529.85 364.98L529.90 365.24L529.95 365.49L530.00 365.74L530.00 365.74L530.05 366.00L530.10 366.25L530.15 366.51L530.20 366.77L530.25 367.03L530.30 367.29L530.35 367.55L530.40 367.82L530.45 368.08L530.50 368.35L530.50 368.35L530.55 368.61L530.60 368.88L530.65 369.15L530.70 369.42L530.75 369.69L530.80 369.97L530.85 370.24L530.90 370.52L530.95 370.79L531.00 371.07L531.00 371.07L531.05 371.35L531.10 371.63L531.15 371.91L531.20 372.20L531.25 372.48L531.30 372.77L531.35 373.06L531.40 373.35L531.45 373.64L531.50 373.93L531.50 373.93L531.55 374.23L531.60 374.52L531.65 374.82L531.70 375.12L531.75 375.42L531.80 375.72L531.85 376.02L531.90 376.33L531.95 376.63L532.00 376.94L532.00 376.94L532.05 377.25L532.10 377.56L532.15 377.88L532.20 378.19L532.25 378.51L532.30 378.83L532.35 379.15L532.40 379.47L532.45 379.79L532.50 380.12L532.50 380.12L532.55 380.45L532.60 380.78L532.65 381.11L532.70 381.44L532.75 381.78L532.80 382.11L532.85 382.45L532.90 382.79L532.95 383.14L533.00 383.48L533.00 383.48L533.05 383.83L533.10 384.18L533.15 384.53L533.20 384.89L533.25 385.24L533.30 385.60L533.35 385.96L533.40 386.32L533.45 386.69L533.50 387.06L533.50 387.06L533.55 387.43L533.60 387.80L533.65 388.17L533.70 388.55L533.75 388.93L533.80 389.31L533.85 389.70L533.90 390.09L533.95 390.48L534.00 390.87L534.00 390.87L534.05 391.27L534.10 391.67L534.15 392.07L534.20 392.47L534.25 392.88L534.30 393.29L534.35 393.70L534.40 394.12L534.45 394.54L534.50 394.96L534.50 394.96L534.55 395.39L534.60 395.82L534.65 396.25L534.70 396.69L534.75 397.12L534.80 397.57L534.85 398.01L534.90 398.46L534.95 398.92L535.00 399.37L535.00 399.37L535.05 399.83L535.10 400.30L535.15 400.77L535.20 401.24L535.25 401.71L535.30 402.20L535.35 402.68L535.40 403.17L535.45 403.66L535.50 404.16L535.50 404.16L535.55 404.66L535.60 405.17L535.65 405.68L535.70 406.19L535.75 406.72L535.80 407.24L535.85 407.77L535.90 408.31L535.95 408.85L536.00 409.39L536.00 409.39L536.05 409.94L536.10 410.50L536.15 411.06L536.20 411.63L536.25 411.75L536.30 411.75L536.35 411.75L536.40 411.75L536.45 411.75L536.50 411.75L536.50 411.75L536.55 411.75L536.60 411.75L536.65 411.75L536.70 411.75L536.75 411.75L536.80 411.75L536.85 411.75L536.90 411.75L536.95 411.75L537.00 411.75L537.00 411.75L537.05 411.75L537.10 411.75L537.15 411.75L537.20 411.75L537.25 411.75L537.30 411.75L537.35 411.75L537.40 411.75L537.45 411.75L537.50 411.75L537.50 411.75L537.55 411.75L537.60 411.75L537.65 411.75L537.70 411.75L537.75 411.75L537.80 411.75L537.85 411.75L537.90 411.75L537.95 411.75L538.00 411.75L538.00 411.75L538.05 411.75L538.10 411.75L538.15 411.75L538.20 411.75L538.25 411.75L538.30 411.75L538.35 411.75L538.40 411.75L538.45 411.75L538.50 411.75L538.50 411.75L538.55 411.75L538.60 411.75L538.65 411.75L538.70 411.75L538.75 411.75L538.80 411.75L538.85 411.75L538.90 411.75L538.95 411.75L539.00 411.75L539.00 411.75L539.05 411.75L539.10 411.75L539.15 411.75L539.20 411.75L539.25 411.75L539.30 411.75L539.35 411.75L539.40 411.75L539.45 411.75L539.50 411.75L539.50 411.75L539.55 411.75L539.60 411.75L539.65 411.75L539.70 411.75L539.75 411.75L539.80 411.75L539.85 411.75L539.90 411.75L539.95 411.75L540.00 411.75L540.00 411.75L540.05 411.75L540.10 411.75L540.15 411.75L540.20 411.75L540.25 411.75L540.30 411.75L540.35 411.75L540.40 411.75L540.45 411.75L540.50 411.75L540.50 411.75L540.55 411.75L540.60 411.75L540.65 411.75L540.70 411.75L540.75 411.75L540.80 411.75L540.85 411.75L540.90 411.75L540.95 411.75L541.05 411.75L541.10 411.75L541.15 411.75L541.20 411.75L541.25 411.75L541.30 411.75L541.35 411.75L541.40 411.75L541.45 411.75L541.50 411.75L541.50 411.75L541.55 411.75L541.60 411.75L541.65 411.75L541.70 411.75L541.75 411.75L541.80 411.75L541.85 411.75L541.90 411.75L541.95 411.75L542.00 411.75L542.00 411.75L542.05 411.75L542.10 411.75L542.15 411.75L542.20 411.75L542.25 411.75L542.30 411.75L542.35 411.75L542.40 411.75L542.45 411.75L542.50 411.75L542.50 411.75L542.55 411.75L542.60 411.75L542.65 411.75L542.70 411.75L542.75 411.75L542.80 411.75L542.85 411.75L542.90 411.75L542.95 411.75L543.00 411.75L543.00 411.75L543.05 411.75L543.10 411.75L543.15 411.75L543.20 411.75L543.25 411.75L543.30 411.75L543.35 411.75L543.40 411.75L543.45 411.75L543.50 411.75L543.50 411.75L543.55 411.75L543.60 411.75L543.65 411.75L543.70 411.75L543.75 411.75L543.80 411.75L543.85 411.75L543.90 411.75L543.95 411.75L544.00 411.75L544.00 411.75L544.05 411.75L544.10 411.75L544.15 411.75L544.20 411.75L544.25 411.75L544.30 411.75L544.35 411.75L544.40 411.75L544.45 411.75L544.50 411.75L544.50 411.75L544.55 411.75L544.60 411.75L544.65 411.75L544.70 411.75L544.75 411.75L544.80 411.75L544.85 411.75L544.90 411.75L544.95 411.75L545.00 411.75L545.00 411.75L545.05 411.75L545.10 411.75L545.15 411.75L545.20 411.75L545.25 411.75L545.30 411.75L545.35 411.75L545.40 411.75L545.45 411.75L545.50 411.75L545.50 411.75L545.55 411.75L545.60 411.75L545.65 411.75L545.70 411.75L545.75 411.75L545.80 411.75L545.85 411.75L545.90 411.75L545.95 411.72L546.00 411.19L546.00 411.19L546.05 410.66L546.10 410.14L546.15 409.62L546.20 409.11L546.25 408.60L546.30 408.10L546.35 407.60L546.40 407.10L546.45 406.62L546.50 406.13L546.50 406.13L546.55 405.65L546.60 405.18L546.65 404.71L546.70 404.24L546.75 403.78L546.80 403.32L546.85 402.86L546.90 402.41L546.95 401.97L547.00 401.52L547.00 401.52L547.05 401.09L547.10 400.65L547.15 400.22L547.20 399.79L547.25 399.37L547.30 398.95L547.35 398.53L547.40 398.11L547.45 397.70L547.50 397.29L547.50 397.29L547.55 396.89L547.60 396.49L547.65 396.09L547.70 395.69L547.75 395.30L547.80 394.91L547.85 394.53L547.90 394.14L547.95 393.76L548.00 393.38L548.00 393.38L548.05 393.01L548.10 392.63L548.15 392.26L548.20 391.90L548.25 391.53L548.30 391.17L548.35 390.81L548.40 390.45L548.45 390.10L548.50 389.75L548.50 389.75L548.55 389.40L548.60 389.05L548.65 388.71L548.70 388.36L548.75 388.02L548.80 387.68L548.85 387.35L548.90 387.01L548.95 386.68L549.00 386.35L549.00 386.35L549.05 386.03L549.10 385.70L549.15 385.38L549.20 385.06L549.25 384.74L549.30 384.42L549.35 384.10L549.40 383.79L549.45 383.48L549.50 383.17L549.50 383.17L549.55 382.86L549.60 382.56L549.65 382.25L549.70 381.95L549.75 381.65L549.80 381.35L549.85 381.05L549.90 380.76L549.95 380.46L550.00 380.17L550.00 380.17L550.05 379.88L550.10 379.59L550.15 379.31L550.20 379.02L550.25 378.74L550.30 378.45L550.35 378.17L550.40 377.90L550.45 377.62L550.50 377.34L550.50 377.34L550.55 377.07L550.60 376.79L550.65 376.52L550.70 376.25L550.75 375.98L550.80 375.72L550.85 375.45L550.90 375.19L550.95 374.92L551.00 374.66L551.00 374.66L551.05 374.40L551.10 374.14L551.15 373.88L551.20 373.63L551.25 373.37L551.30 373.12L551.35 372.87L551.40 372.61L551.45 372.36L551.50 372.11L551.50 372.11L551.55 371.87L551.60 371.62L551.65 371.38L551.70 371.13L551.75 370.89L551.80 370.65L551.85 370.41L551.90 370.17L551.95 369.93L552.00 369.69L552.00 369.69L552.05 369.46L552.10 369.22L552.15 368.99L552.20 368.75L552.25 368.52L552.30 368.29L552.35 368.06L552.40 367.83L552.45 367.61L552.50 367.38L552.50 367.38L552.55 367.15L552.60 366.93L552.65 366.71L552.70 366.48L552.75 366.26L552.80 366.04L552.85 365.82L552.90 365.60L552.95 365.39L553.00 365.17L553.50 363.05L554.00 361.02L554.50 359.07L555.00 357.20L555.50 355.39L556.00 353.65L556.50 351.96L557.00 350.34L557.50 348.76L558.00 347.24L558.50 345.76L559.00 344.32L559.50 342.93L560.00 341.58L560.50 340.26L561.00 338.98L561.50 337.73L562.00 336.52L562.50 335.33L563.00 334.18L563.50 333.05L564.00 331.95L564.50 330.87L565.00 329.82L565.50 328.79L566.00 327.78L566.50 326.80L567.00 325.84L567.50 324.89L568.00 323.97L568.50 323.06L569.00 322.17L569.50 321.30L570.00 320.45L570.50 319.61L571.00 318.79L571.50 317.98L572.00 317.18L572.50 316.41L573.00 315.64L573.50 314.89L574.00 314.15L574.50 313.42L575.00 312.70L575.50 312.00L576.00 311.30L576.50 310.62L577.00 309.95L577.50 309.29L578.00 308.64L578.50 308.00L579.00 307.37L579.50 306.74L580.00 306.13L580.50 305.53L581.00 304.93L581.50 304.35L582.00 303.77L582.50 303.20L583.00 302.64L583.50 302.08L584.00 301.53L584.50 301.00L585.00 300.46L585.50 299.94L586.00 299.42L586.50 298.91L587.00 298.41L587.50 297.91L588.00 297.42L588.50 296.93L589.00 296.45L589.50 295.98L590.00 295.51L590.50 295.05L591.00 294.59L591.50 294.14L592.00 293.70L592.50 293.26L593.00 292.82L593.50 292.39L594.00 291.97L594.50 291.55L595.00 291.14L595.50 290.73L596.00 290.32L596.50 289.92L597.00 289.52L597.50 289.13L598.00 288.74L598.50 288.36L599.00 287.98L599.50 287.60L600.00 287.23L600.50 286.87L601.00 286.50L601.50 286.14L602.00 285.79L602.50 285.43L603.00 285.08L603.50 284.74L604.00 284.40L604.50 284.06L605.00 283.72L605.50 283.39L606.00 283.06L606.50 282.74L607.00 282.42L607.50 282.10L608.00 281.78L608.50 281.47L609.00 281.16L609.50 280.85L610.00 280.55L610.50 280.25L611.00 279.95L611.50 279.65L612.00 279.36L612.50 279.07L613.00 278.78L613.50 278.50L614.00 278.22L614.50 277.94L615.00 277.66L615.50 277.38L616.00 277.11L616.50 276.84L617.00 276.57L617.50 276.31L618.00 276.04L618.50 275.78L619.00 275.52L619.50 275.27L620.00 275.01L620.50 274.76L621.00 274.51L621.50 274.27L622.00 274.02L622.50 273.78L623.00 273.54L623.50 273.30L624.00 273.06L624.50 272.83L625.00 272.60L625.50 272.37L626.00 272.14L626.50 271.92L627.00 271.69L627.50 271.47L628.00 271.25L628.50 271.03L629.00 270.82L629.50 270.60L630.00 270.39L630.50 270.18L631.00 269.97L631.50 269.77L632.00 269.56L632.50 269.36L633.00 269.16L633.50 268.96L634.00 268.76L634.50 268.57L635.00 268.37L635.50 268.18L636.00 267.99L636.50 267.80L637.00 267.62L637.50 267.43L638.00 267.25L638.50 267.06L639.00 266.88L639.50 266.70L640.00 266.53L640.50 266.35L641.00 266.18L641.50 266.01L642.00 265.83L642.50 265.66L643.00 265.50L643.50 265.33L644.00 265.17L644.50 265.00L645.00 264.84L645.50 264.68L646.00 264.52L646.50 264.36L647.00 264.21L647.50 264.05L648.00 263.90L648.50 263.75L649.00 263.59L649.50 263.45L650.00 263.30L650.50 263.15L651.00 263.00L651.50 262.86L652.00 262.72L652.50 262.57L653.00 262.43L653.50 262.29L654.00 262.15L654.50 262.02L655.00 261.88L655.50 261.74L656.00 261.61L656.50 261.47L657.00 261.34L657.50 261.21L658.00 261.08L658.50 260.95L659.00 260.82L659.50 260.70L660.00 260.57L660.50 260.45L661.00 260.32L661.50 260.20L662.00 260.08L662.50 259.96L663.00 259.84L663.50 259.72L664.00 259.60L664.50 259.48L665.00 259.37L665.50 259.25L666.00 259.14L666.50 259.03L667.00 258.92L667.50 258.81L668.00 258.70L668.50 258.59L669.00 258.48L669.50 258.38L670.00 258.27L670.50 258.17L671.00 258.07L671.50 257.96L672.00 257.86L672.50 257.76L673.00 257.66L673.50 257.57L674.00 257.47L674.50 257.38L675.00 257.28L675.50 257.19L676.00 257.10L676.50 257.00L677.00 256.91L677.50 256.82L678.00 256.74L678.50 256.65L679.00 256.56L679.50 256.48L680.00 256.39L680.50 256.31L681.00 256.23L681.50 256.15L682.00 256.07L682.50 255.99L683.00 255.91L683.50 255.83L684.00 255.76L684.50 255.68L685.00 255.61L685.50 255.54L686.00 255.47L686.50 255.40L687.00 255.33L687.50 255.26L688.00 255.19L688.50 255.13L689.00 255.06L689.50 255.00L690.00 254.93L690.50 254.87L691.00 254.81L691.50 254.75L692.00 254.69L692.50 254.63L693.00 254.58L693.50 254.52L694.00 254.47L694.50 254.41L695.00 254.36L695.50 254.31L696.00 254.26L696.50 254.21L697.00 254.16L697.50 254.11L698.00 254.07L698.50 254.02L699.00 253.98L699.50 253.93L700.00 253.89L700.50 253.85L701.00 253.81L701.50 253.77L702.00 253.73L702.50 253.69L703.00 253.66L703.50 253.62L704.00 253.58L704.50 253.55L705.00 253.51L705.50 253.48L706.00 253.45L706.50 253.42L707.00 253.39L707.50 253.36L708.00 253.33L708.50 253.30L709.00 253.27L709.50 253.24L710.00 253.22L710.50 253.19L711.00 253.17L711.50 253.14L712.00 253.12L712.50 253.09L713.00 253.07L713.50 253.05L714.00 253.03L714.50 253.01L715.00 252.99L715.50 252.97L716.00 252.95L716.50 252.93L717.00 252.92L717.50 252.90L718.00 252.89L718.50 252.87L719.00 252.86L719.50 252.84L720.00 252.83L720.50 252.82L721.00 252.81L721.50 252.79L722.00 252.78L722.50 252.77L723.00 252.76L723.50 252.75L724.00 252.75L724.50 252.74L725.00 252.73L725.50 252.72L726.00 252.72L726.50 252.71L727.00 252.71L727.50 252.70L728.00 252.70L728.50 252.69L729.00 252.69L729.50 252.69L730.00 252.69L730.50 252.68L731.00 252.68L731.50 252.68L732.00 252.68L732.50 252.68L733.00 252.68L733.50 252.68L734.00 252.69L734.50 252.69L735.00 252.69L735.50 252.69L736.00 252.70L736.50 252.70L737.00 252.70L737.50 252.71L738.00 252.71L738.50 252.72L739.00 252.72L739.50 252.73L740.00 252.74L740.50 252.74L741.00 252.75L741.50 252.76L742.00 252.76L742.50 252.77L743.00 252.78L743.50 252.79L744.00 252.80L744.50 252.80L745.00 252.81L745.50 252.82L746.00 252.83L746.50 252.84L747.00 252.85L747.50 252.86L748.00 252.87L748.50 252.88L749.00 252.90L749.50 252.91L750.00 252.92L750.50 252.93L751.00 252.94L751.50 252.95L752.00 252.96L752.50 252.98L753.00 252.99L753.50 253.00L754.00 253.01L754.50 253.03L755.00 253.04L755.50 253.05L756.00 253.06L756.50 253.08L757.00 253.09L757.50 253.10L758.00 253.11L758.50 253.13L759.00 253.14L759.50 253.15L760.00 253.17L760.50 253.18L761.00 253.19L761.50 253.20L762.00 253.22L762.50 253.23L763.00 253.24L763.50 253.25L764.00 253.27L764.50 253.28L765.00 253.29L765.50 253.30L766.00 253.31L766.50 253.32L767.00 253.34L767.50 253.35L768.00 253.36L768.50 253.37L769.00 253.38L769.50 253.39L770.00 253.40L770.50 253.41L771.00 253.42L771.50 253.43L772.00 253.44" stroke="#f00" stroke-width="3" stroke-dasharray="11.5 3.3 2.5 3.5"/>
</g>
<g transform="scale(1.165 1)">
<rect x="115.88" y="27.0" width="546.78" height="372.75" fill="none" stroke="#000" stroke-width="1.8"/>
<g opacity="0.999">
<text x="102.66" y="37.10" text-anchor="end">10<tspan font-size="18.5" dy="-11.2">-9</tspan></text><text x="102.66" y="161.35" text-anchor="end">10<tspan font-size="18.5" dy="-11.2">-10</tspan></text><text x="102.66" y="285.60" text-anchor="end">10<tspan font-size="18.5" dy="-11.2">-11</tspan></text><text x="102.66" y="409.85" text-anchor="end">10<tspan font-size="18.5" dy="-11.2">-12</tspan></text>
<text x="257.51" y="431" text-anchor="middle">0.001</text><text x="460.09" y="431" text-anchor="middle">0.01</text><text x="662.66" y="431" text-anchor="middle">0.1</text>
<text x="389.27" y="461.8" font-size="22.5" text-anchor="middle">m<tspan font-size="18.5" dy="7.4">3</tspan><tspan dy="-7.4">[eV]</tspan></text>
<g transform="translate(27.73 213.5) rotate(-90)"><text x="0" y="0" text-anchor="middle">|Y<tspan font-size="18.5" dy="7.4">B</tspan><tspan dy="-7.4">|</tspan></text></g>
</g>
</g>
</svg>
</body></html>
